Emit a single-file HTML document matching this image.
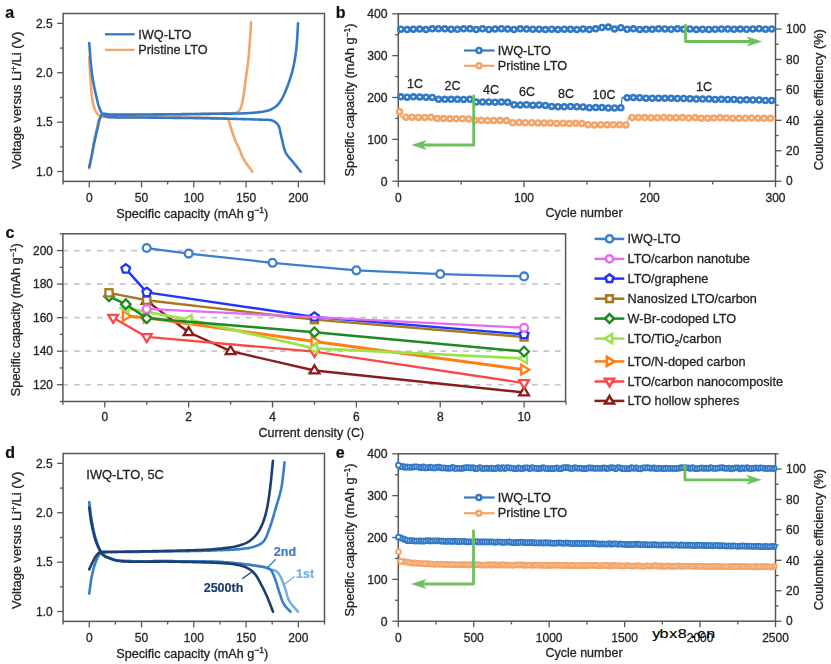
<!DOCTYPE html>
<html><head><meta charset="utf-8"><style>
html,body{margin:0;padding:0;background:#fff;}
body{position:relative;width:831px;height:664px;overflow:hidden;}
svg{display:block;font-family:"Liberation Sans", sans-serif;}
#main{filter:blur(0.45px);}
#wm{position:absolute;left:0;top:0;}
</style></head><body>
<svg id="main" width="831" height="664" viewBox="0 0 831 664">
<rect width="831" height="664" fill="#fff"/>
<rect x="63.10" y="13.50" width="261.40" height="167.90" fill="none" stroke="#575757" stroke-width="1.5"/>
<line x1="57.10" y1="171.52" x2="63.10" y2="171.52" stroke="#575757" stroke-width="1.3"/>
<text x="52.80" y="175.78" font-size="12" text-anchor="end" font-weight="normal" fill="#262626" stroke="#262626" stroke-width="0.3">1.0</text>
<line x1="57.10" y1="122.14" x2="63.10" y2="122.14" stroke="#575757" stroke-width="1.3"/>
<text x="52.80" y="126.40" font-size="12" text-anchor="end" font-weight="normal" fill="#262626" stroke="#262626" stroke-width="0.3">1.5</text>
<line x1="57.10" y1="72.76" x2="63.10" y2="72.76" stroke="#575757" stroke-width="1.3"/>
<text x="52.80" y="77.02" font-size="12" text-anchor="end" font-weight="normal" fill="#262626" stroke="#262626" stroke-width="0.3">2.0</text>
<line x1="57.10" y1="23.38" x2="63.10" y2="23.38" stroke="#575757" stroke-width="1.3"/>
<text x="52.80" y="27.64" font-size="12" text-anchor="end" font-weight="normal" fill="#262626" stroke="#262626" stroke-width="0.3">2.5</text>
<line x1="59.90" y1="146.83" x2="63.10" y2="146.83" stroke="#575757" stroke-width="1.3"/>
<line x1="59.90" y1="97.45" x2="63.10" y2="97.45" stroke="#575757" stroke-width="1.3"/>
<line x1="59.90" y1="48.07" x2="63.10" y2="48.07" stroke="#575757" stroke-width="1.3"/>
<line x1="89.24" y1="181.40" x2="89.24" y2="187.40" stroke="#575757" stroke-width="1.3"/>
<text x="89.24" y="201.56" font-size="12" text-anchor="middle" font-weight="normal" fill="#262626" stroke="#262626" stroke-width="0.3">0</text>
<line x1="141.52" y1="181.40" x2="141.52" y2="187.40" stroke="#575757" stroke-width="1.3"/>
<text x="141.52" y="201.56" font-size="12" text-anchor="middle" font-weight="normal" fill="#262626" stroke="#262626" stroke-width="0.3">50</text>
<line x1="193.80" y1="181.40" x2="193.80" y2="187.40" stroke="#575757" stroke-width="1.3"/>
<text x="193.80" y="201.56" font-size="12" text-anchor="middle" font-weight="normal" fill="#262626" stroke="#262626" stroke-width="0.3">100</text>
<line x1="246.08" y1="181.40" x2="246.08" y2="187.40" stroke="#575757" stroke-width="1.3"/>
<text x="246.08" y="201.56" font-size="12" text-anchor="middle" font-weight="normal" fill="#262626" stroke="#262626" stroke-width="0.3">150</text>
<line x1="298.36" y1="181.40" x2="298.36" y2="187.40" stroke="#575757" stroke-width="1.3"/>
<text x="298.36" y="201.56" font-size="12" text-anchor="middle" font-weight="normal" fill="#262626" stroke="#262626" stroke-width="0.3">200</text>
<line x1="63.10" y1="181.40" x2="63.10" y2="184.60" stroke="#575757" stroke-width="1.3"/>
<line x1="115.38" y1="181.40" x2="115.38" y2="184.60" stroke="#575757" stroke-width="1.3"/>
<line x1="167.66" y1="181.40" x2="167.66" y2="184.60" stroke="#575757" stroke-width="1.3"/>
<line x1="219.94" y1="181.40" x2="219.94" y2="184.60" stroke="#575757" stroke-width="1.3"/>
<line x1="272.22" y1="181.40" x2="272.22" y2="184.60" stroke="#575757" stroke-width="1.3"/>
<line x1="324.50" y1="181.40" x2="324.50" y2="184.60" stroke="#575757" stroke-width="1.3"/>
<text x="192.30" y="217.67" font-size="12.6" text-anchor="middle" font-weight="normal" fill="#262626" stroke="#262626" stroke-width="0.3">Specific capacity (mAh g<tspan font-size="8.6" dy="-4.5">−1</tspan><tspan dy="4.5">)</tspan></text>
<text x="16.60" y="104.86" font-size="12.85" text-anchor="middle" font-weight="normal" fill="#262626" stroke="#262626" stroke-width="0.3" transform="rotate(-90 16.60 100.30)">Voltage versus Li<tspan font-size="8.7" dy="-4.6">+</tspan><tspan dy="4.6">/Li (V)</tspan></text>
<text x="5.30" y="18.28" font-size="16" text-anchor="start" font-weight="bold" fill="#111" stroke="#111" stroke-width="0.2">a</text>
<rect x="63.10" y="453.50" width="261.40" height="167.90" fill="none" stroke="#575757" stroke-width="1.5"/>
<line x1="57.10" y1="611.52" x2="63.10" y2="611.52" stroke="#575757" stroke-width="1.3"/>
<text x="52.80" y="615.78" font-size="12" text-anchor="end" font-weight="normal" fill="#262626" stroke="#262626" stroke-width="0.3">1.0</text>
<line x1="57.10" y1="562.14" x2="63.10" y2="562.14" stroke="#575757" stroke-width="1.3"/>
<text x="52.80" y="566.40" font-size="12" text-anchor="end" font-weight="normal" fill="#262626" stroke="#262626" stroke-width="0.3">1.5</text>
<line x1="57.10" y1="512.76" x2="63.10" y2="512.76" stroke="#575757" stroke-width="1.3"/>
<text x="52.80" y="517.02" font-size="12" text-anchor="end" font-weight="normal" fill="#262626" stroke="#262626" stroke-width="0.3">2.0</text>
<line x1="57.10" y1="463.38" x2="63.10" y2="463.38" stroke="#575757" stroke-width="1.3"/>
<text x="52.80" y="467.64" font-size="12" text-anchor="end" font-weight="normal" fill="#262626" stroke="#262626" stroke-width="0.3">2.5</text>
<line x1="59.90" y1="586.83" x2="63.10" y2="586.83" stroke="#575757" stroke-width="1.3"/>
<line x1="59.90" y1="537.45" x2="63.10" y2="537.45" stroke="#575757" stroke-width="1.3"/>
<line x1="59.90" y1="488.07" x2="63.10" y2="488.07" stroke="#575757" stroke-width="1.3"/>
<line x1="89.24" y1="621.40" x2="89.24" y2="627.40" stroke="#575757" stroke-width="1.3"/>
<text x="89.24" y="641.56" font-size="12" text-anchor="middle" font-weight="normal" fill="#262626" stroke="#262626" stroke-width="0.3">0</text>
<line x1="141.52" y1="621.40" x2="141.52" y2="627.40" stroke="#575757" stroke-width="1.3"/>
<text x="141.52" y="641.56" font-size="12" text-anchor="middle" font-weight="normal" fill="#262626" stroke="#262626" stroke-width="0.3">50</text>
<line x1="193.80" y1="621.40" x2="193.80" y2="627.40" stroke="#575757" stroke-width="1.3"/>
<text x="193.80" y="641.56" font-size="12" text-anchor="middle" font-weight="normal" fill="#262626" stroke="#262626" stroke-width="0.3">100</text>
<line x1="246.08" y1="621.40" x2="246.08" y2="627.40" stroke="#575757" stroke-width="1.3"/>
<text x="246.08" y="641.56" font-size="12" text-anchor="middle" font-weight="normal" fill="#262626" stroke="#262626" stroke-width="0.3">150</text>
<line x1="298.36" y1="621.40" x2="298.36" y2="627.40" stroke="#575757" stroke-width="1.3"/>
<text x="298.36" y="641.56" font-size="12" text-anchor="middle" font-weight="normal" fill="#262626" stroke="#262626" stroke-width="0.3">200</text>
<line x1="63.10" y1="621.40" x2="63.10" y2="624.60" stroke="#575757" stroke-width="1.3"/>
<line x1="115.38" y1="621.40" x2="115.38" y2="624.60" stroke="#575757" stroke-width="1.3"/>
<line x1="167.66" y1="621.40" x2="167.66" y2="624.60" stroke="#575757" stroke-width="1.3"/>
<line x1="219.94" y1="621.40" x2="219.94" y2="624.60" stroke="#575757" stroke-width="1.3"/>
<line x1="272.22" y1="621.40" x2="272.22" y2="624.60" stroke="#575757" stroke-width="1.3"/>
<line x1="324.50" y1="621.40" x2="324.50" y2="624.60" stroke="#575757" stroke-width="1.3"/>
<text x="192.30" y="657.67" font-size="12.6" text-anchor="middle" font-weight="normal" fill="#262626" stroke="#262626" stroke-width="0.3">Specific capacity (mAh g<tspan font-size="8.6" dy="-4.5">−1</tspan><tspan dy="4.5">)</tspan></text>
<text x="16.60" y="544.86" font-size="12.85" text-anchor="middle" font-weight="normal" fill="#262626" stroke="#262626" stroke-width="0.3" transform="rotate(-90 16.60 540.30)">Voltage versus Li<tspan font-size="8.7" dy="-4.6">+</tspan><tspan dy="4.6">/Li (V)</tspan></text>
<text x="5.30" y="458.28" font-size="16" text-anchor="start" font-weight="bold" fill="#111" stroke="#111" stroke-width="0.2">d</text>
<rect x="398.30" y="13.80" width="377.20" height="167.40" fill="none" stroke="#575757" stroke-width="1.5"/>
<line x1="392.30" y1="181.20" x2="398.30" y2="181.20" stroke="#575757" stroke-width="1.3"/>
<text x="387.60" y="185.53" font-size="12.2" text-anchor="end" font-weight="normal" fill="#262626" stroke="#262626" stroke-width="0.3">0</text>
<line x1="392.30" y1="139.35" x2="398.30" y2="139.35" stroke="#575757" stroke-width="1.3"/>
<text x="387.60" y="143.68" font-size="12.2" text-anchor="end" font-weight="normal" fill="#262626" stroke="#262626" stroke-width="0.3">100</text>
<line x1="392.30" y1="97.50" x2="398.30" y2="97.50" stroke="#575757" stroke-width="1.3"/>
<text x="387.60" y="101.83" font-size="12.2" text-anchor="end" font-weight="normal" fill="#262626" stroke="#262626" stroke-width="0.3">200</text>
<line x1="392.30" y1="55.65" x2="398.30" y2="55.65" stroke="#575757" stroke-width="1.3"/>
<text x="387.60" y="59.98" font-size="12.2" text-anchor="end" font-weight="normal" fill="#262626" stroke="#262626" stroke-width="0.3">300</text>
<line x1="392.30" y1="13.80" x2="398.30" y2="13.80" stroke="#575757" stroke-width="1.3"/>
<text x="387.60" y="18.13" font-size="12.2" text-anchor="end" font-weight="normal" fill="#262626" stroke="#262626" stroke-width="0.3">400</text>
<line x1="395.10" y1="160.27" x2="398.30" y2="160.27" stroke="#575757" stroke-width="1.3"/>
<line x1="395.10" y1="118.42" x2="398.30" y2="118.42" stroke="#575757" stroke-width="1.3"/>
<line x1="395.10" y1="76.58" x2="398.30" y2="76.58" stroke="#575757" stroke-width="1.3"/>
<line x1="395.10" y1="34.72" x2="398.30" y2="34.72" stroke="#575757" stroke-width="1.3"/>
<line x1="775.50" y1="181.20" x2="781.50" y2="181.20" stroke="#575757" stroke-width="1.3"/>
<text x="786.00" y="185.46" font-size="12" text-anchor="start" font-weight="normal" fill="#262626" stroke="#262626" stroke-width="0.3">0</text>
<line x1="775.50" y1="150.76" x2="781.50" y2="150.76" stroke="#575757" stroke-width="1.3"/>
<text x="786.00" y="155.02" font-size="12" text-anchor="start" font-weight="normal" fill="#262626" stroke="#262626" stroke-width="0.3">20</text>
<line x1="775.50" y1="120.33" x2="781.50" y2="120.33" stroke="#575757" stroke-width="1.3"/>
<text x="786.00" y="124.59" font-size="12" text-anchor="start" font-weight="normal" fill="#262626" stroke="#262626" stroke-width="0.3">40</text>
<line x1="775.50" y1="89.89" x2="781.50" y2="89.89" stroke="#575757" stroke-width="1.3"/>
<text x="786.00" y="94.15" font-size="12" text-anchor="start" font-weight="normal" fill="#262626" stroke="#262626" stroke-width="0.3">60</text>
<line x1="775.50" y1="59.45" x2="781.50" y2="59.45" stroke="#575757" stroke-width="1.3"/>
<text x="786.00" y="63.71" font-size="12" text-anchor="start" font-weight="normal" fill="#262626" stroke="#262626" stroke-width="0.3">80</text>
<line x1="775.50" y1="29.02" x2="781.50" y2="29.02" stroke="#575757" stroke-width="1.3"/>
<text x="786.00" y="33.28" font-size="12" text-anchor="start" font-weight="normal" fill="#262626" stroke="#262626" stroke-width="0.3">100</text>
<line x1="775.50" y1="165.98" x2="778.70" y2="165.98" stroke="#575757" stroke-width="1.3"/>
<line x1="775.50" y1="135.55" x2="778.70" y2="135.55" stroke="#575757" stroke-width="1.3"/>
<line x1="775.50" y1="105.11" x2="778.70" y2="105.11" stroke="#575757" stroke-width="1.3"/>
<line x1="775.50" y1="74.67" x2="778.70" y2="74.67" stroke="#575757" stroke-width="1.3"/>
<line x1="775.50" y1="44.24" x2="778.70" y2="44.24" stroke="#575757" stroke-width="1.3"/>
<line x1="775.50" y1="13.80" x2="778.70" y2="13.80" stroke="#575757" stroke-width="1.3"/>
<line x1="398.30" y1="181.20" x2="398.30" y2="187.20" stroke="#575757" stroke-width="1.3"/>
<text x="398.30" y="201.56" font-size="12" text-anchor="middle" font-weight="normal" fill="#262626" stroke="#262626" stroke-width="0.3">0</text>
<line x1="524.03" y1="181.20" x2="524.03" y2="187.20" stroke="#575757" stroke-width="1.3"/>
<text x="524.03" y="201.56" font-size="12" text-anchor="middle" font-weight="normal" fill="#262626" stroke="#262626" stroke-width="0.3">100</text>
<line x1="649.77" y1="181.20" x2="649.77" y2="187.20" stroke="#575757" stroke-width="1.3"/>
<text x="649.77" y="201.56" font-size="12" text-anchor="middle" font-weight="normal" fill="#262626" stroke="#262626" stroke-width="0.3">200</text>
<line x1="775.50" y1="181.20" x2="775.50" y2="187.20" stroke="#575757" stroke-width="1.3"/>
<text x="775.50" y="201.56" font-size="12" text-anchor="middle" font-weight="normal" fill="#262626" stroke="#262626" stroke-width="0.3">300</text>
<line x1="461.17" y1="181.20" x2="461.17" y2="184.40" stroke="#575757" stroke-width="1.3"/>
<line x1="586.90" y1="181.20" x2="586.90" y2="184.40" stroke="#575757" stroke-width="1.3"/>
<line x1="712.63" y1="181.20" x2="712.63" y2="184.40" stroke="#575757" stroke-width="1.3"/>
<text x="584.00" y="216.94" font-size="12.5" text-anchor="middle" font-weight="normal" fill="#262626" stroke="#262626" stroke-width="0.3">Cycle number</text>
<text x="349.60" y="104.41" font-size="12.7" text-anchor="middle" font-weight="normal" fill="#262626" stroke="#262626" stroke-width="0.3" transform="rotate(-90 349.60 99.90)">Specific capacity (mAh g<tspan font-size="8.6" dy="-4.5">−1</tspan><tspan dy="4.5">)</tspan></text>
<text x="818.20" y="104.21" font-size="12.85" text-anchor="middle" font-weight="normal" fill="#262626" stroke="#262626" stroke-width="0.3" transform="rotate(-90 818.20 99.65)">Coulombic efficiency (%)</text>
<text x="335.80" y="17.58" font-size="16" text-anchor="start" font-weight="bold" fill="#111" stroke="#111" stroke-width="0.2">b</text>
<rect x="398.30" y="453.80" width="377.20" height="167.40" fill="none" stroke="#575757" stroke-width="1.5"/>
<line x1="392.30" y1="621.20" x2="398.30" y2="621.20" stroke="#575757" stroke-width="1.3"/>
<text x="387.60" y="625.53" font-size="12.2" text-anchor="end" font-weight="normal" fill="#262626" stroke="#262626" stroke-width="0.3">0</text>
<line x1="392.30" y1="579.35" x2="398.30" y2="579.35" stroke="#575757" stroke-width="1.3"/>
<text x="387.60" y="583.68" font-size="12.2" text-anchor="end" font-weight="normal" fill="#262626" stroke="#262626" stroke-width="0.3">100</text>
<line x1="392.30" y1="537.50" x2="398.30" y2="537.50" stroke="#575757" stroke-width="1.3"/>
<text x="387.60" y="541.83" font-size="12.2" text-anchor="end" font-weight="normal" fill="#262626" stroke="#262626" stroke-width="0.3">200</text>
<line x1="392.30" y1="495.65" x2="398.30" y2="495.65" stroke="#575757" stroke-width="1.3"/>
<text x="387.60" y="499.98" font-size="12.2" text-anchor="end" font-weight="normal" fill="#262626" stroke="#262626" stroke-width="0.3">300</text>
<line x1="392.30" y1="453.80" x2="398.30" y2="453.80" stroke="#575757" stroke-width="1.3"/>
<text x="387.60" y="458.13" font-size="12.2" text-anchor="end" font-weight="normal" fill="#262626" stroke="#262626" stroke-width="0.3">400</text>
<line x1="395.10" y1="600.28" x2="398.30" y2="600.28" stroke="#575757" stroke-width="1.3"/>
<line x1="395.10" y1="558.43" x2="398.30" y2="558.43" stroke="#575757" stroke-width="1.3"/>
<line x1="395.10" y1="516.58" x2="398.30" y2="516.58" stroke="#575757" stroke-width="1.3"/>
<line x1="395.10" y1="474.73" x2="398.30" y2="474.73" stroke="#575757" stroke-width="1.3"/>
<line x1="775.50" y1="621.20" x2="781.50" y2="621.20" stroke="#575757" stroke-width="1.3"/>
<text x="786.00" y="625.46" font-size="12" text-anchor="start" font-weight="normal" fill="#262626" stroke="#262626" stroke-width="0.3">0</text>
<line x1="775.50" y1="590.76" x2="781.50" y2="590.76" stroke="#575757" stroke-width="1.3"/>
<text x="786.00" y="595.02" font-size="12" text-anchor="start" font-weight="normal" fill="#262626" stroke="#262626" stroke-width="0.3">20</text>
<line x1="775.50" y1="560.33" x2="781.50" y2="560.33" stroke="#575757" stroke-width="1.3"/>
<text x="786.00" y="564.59" font-size="12" text-anchor="start" font-weight="normal" fill="#262626" stroke="#262626" stroke-width="0.3">40</text>
<line x1="775.50" y1="529.89" x2="781.50" y2="529.89" stroke="#575757" stroke-width="1.3"/>
<text x="786.00" y="534.15" font-size="12" text-anchor="start" font-weight="normal" fill="#262626" stroke="#262626" stroke-width="0.3">60</text>
<line x1="775.50" y1="499.45" x2="781.50" y2="499.45" stroke="#575757" stroke-width="1.3"/>
<text x="786.00" y="503.71" font-size="12" text-anchor="start" font-weight="normal" fill="#262626" stroke="#262626" stroke-width="0.3">80</text>
<line x1="775.50" y1="469.02" x2="781.50" y2="469.02" stroke="#575757" stroke-width="1.3"/>
<text x="786.00" y="473.28" font-size="12" text-anchor="start" font-weight="normal" fill="#262626" stroke="#262626" stroke-width="0.3">100</text>
<line x1="775.50" y1="605.98" x2="778.70" y2="605.98" stroke="#575757" stroke-width="1.3"/>
<line x1="775.50" y1="575.55" x2="778.70" y2="575.55" stroke="#575757" stroke-width="1.3"/>
<line x1="775.50" y1="545.11" x2="778.70" y2="545.11" stroke="#575757" stroke-width="1.3"/>
<line x1="775.50" y1="514.67" x2="778.70" y2="514.67" stroke="#575757" stroke-width="1.3"/>
<line x1="775.50" y1="484.24" x2="778.70" y2="484.24" stroke="#575757" stroke-width="1.3"/>
<line x1="775.50" y1="453.80" x2="778.70" y2="453.80" stroke="#575757" stroke-width="1.3"/>
<line x1="398.30" y1="621.20" x2="398.30" y2="627.20" stroke="#575757" stroke-width="1.3"/>
<text x="398.30" y="641.56" font-size="12" text-anchor="middle" font-weight="normal" fill="#262626" stroke="#262626" stroke-width="0.3">0</text>
<line x1="473.74" y1="621.20" x2="473.74" y2="627.20" stroke="#575757" stroke-width="1.3"/>
<text x="473.74" y="641.56" font-size="12" text-anchor="middle" font-weight="normal" fill="#262626" stroke="#262626" stroke-width="0.3">500</text>
<line x1="549.18" y1="621.20" x2="549.18" y2="627.20" stroke="#575757" stroke-width="1.3"/>
<text x="549.18" y="641.56" font-size="12" text-anchor="middle" font-weight="normal" fill="#262626" stroke="#262626" stroke-width="0.3">1000</text>
<line x1="624.62" y1="621.20" x2="624.62" y2="627.20" stroke="#575757" stroke-width="1.3"/>
<text x="624.62" y="641.56" font-size="12" text-anchor="middle" font-weight="normal" fill="#262626" stroke="#262626" stroke-width="0.3">1500</text>
<line x1="700.06" y1="621.20" x2="700.06" y2="627.20" stroke="#575757" stroke-width="1.3"/>
<text x="700.06" y="641.56" font-size="12" text-anchor="middle" font-weight="normal" fill="#262626" stroke="#262626" stroke-width="0.3">2000</text>
<line x1="775.50" y1="621.20" x2="775.50" y2="627.20" stroke="#575757" stroke-width="1.3"/>
<text x="775.50" y="641.56" font-size="12" text-anchor="middle" font-weight="normal" fill="#262626" stroke="#262626" stroke-width="0.3">2500</text>
<line x1="436.02" y1="621.20" x2="436.02" y2="624.40" stroke="#575757" stroke-width="1.3"/>
<line x1="511.46" y1="621.20" x2="511.46" y2="624.40" stroke="#575757" stroke-width="1.3"/>
<line x1="586.90" y1="621.20" x2="586.90" y2="624.40" stroke="#575757" stroke-width="1.3"/>
<line x1="662.34" y1="621.20" x2="662.34" y2="624.40" stroke="#575757" stroke-width="1.3"/>
<line x1="737.78" y1="621.20" x2="737.78" y2="624.40" stroke="#575757" stroke-width="1.3"/>
<text x="584.00" y="656.94" font-size="12.5" text-anchor="middle" font-weight="normal" fill="#262626" stroke="#262626" stroke-width="0.3">Cycle number</text>
<text x="349.60" y="544.41" font-size="12.7" text-anchor="middle" font-weight="normal" fill="#262626" stroke="#262626" stroke-width="0.3" transform="rotate(-90 349.60 539.90)">Specific capacity (mAh g<tspan font-size="8.6" dy="-4.5">−1</tspan><tspan dy="4.5">)</tspan></text>
<text x="818.20" y="544.21" font-size="12.85" text-anchor="middle" font-weight="normal" fill="#262626" stroke="#262626" stroke-width="0.3" transform="rotate(-90 818.20 539.65)">Coulombic efficiency (%)</text>
<text x="335.80" y="457.58" font-size="16" text-anchor="start" font-weight="bold" fill="#111" stroke="#111" stroke-width="0.2">e</text>
<line x1="62.60" y1="384.73" x2="565.50" y2="384.73" stroke="#c6c6c6" stroke-width="1.7" stroke-dasharray="5.6 5.85"/>
<line x1="62.60" y1="351.19" x2="565.50" y2="351.19" stroke="#c6c6c6" stroke-width="1.7" stroke-dasharray="5.6 5.85"/>
<line x1="62.60" y1="317.65" x2="565.50" y2="317.65" stroke="#c6c6c6" stroke-width="1.7" stroke-dasharray="5.6 5.85"/>
<line x1="62.60" y1="284.11" x2="565.50" y2="284.11" stroke="#c6c6c6" stroke-width="1.7" stroke-dasharray="5.6 5.85"/>
<line x1="62.60" y1="250.57" x2="565.50" y2="250.57" stroke="#c6c6c6" stroke-width="1.7" stroke-dasharray="5.6 5.85"/>
<rect x="62.90" y="233.80" width="502.70" height="167.70" fill="none" stroke="#575757" stroke-width="1.5"/>
<line x1="56.90" y1="384.73" x2="62.90" y2="384.73" stroke="#575757" stroke-width="1.3"/>
<text x="53.00" y="388.99" font-size="12" text-anchor="end" font-weight="normal" fill="#262626" stroke="#262626" stroke-width="0.3">120</text>
<line x1="56.90" y1="351.19" x2="62.90" y2="351.19" stroke="#575757" stroke-width="1.3"/>
<text x="53.00" y="355.45" font-size="12" text-anchor="end" font-weight="normal" fill="#262626" stroke="#262626" stroke-width="0.3">140</text>
<line x1="56.90" y1="317.65" x2="62.90" y2="317.65" stroke="#575757" stroke-width="1.3"/>
<text x="53.00" y="321.91" font-size="12" text-anchor="end" font-weight="normal" fill="#262626" stroke="#262626" stroke-width="0.3">160</text>
<line x1="56.90" y1="284.11" x2="62.90" y2="284.11" stroke="#575757" stroke-width="1.3"/>
<text x="53.00" y="288.37" font-size="12" text-anchor="end" font-weight="normal" fill="#262626" stroke="#262626" stroke-width="0.3">180</text>
<line x1="56.90" y1="250.57" x2="62.90" y2="250.57" stroke="#575757" stroke-width="1.3"/>
<text x="53.00" y="254.83" font-size="12" text-anchor="end" font-weight="normal" fill="#262626" stroke="#262626" stroke-width="0.3">200</text>
<line x1="59.70" y1="401.50" x2="62.90" y2="401.50" stroke="#575757" stroke-width="1.3"/>
<line x1="59.70" y1="367.96" x2="62.90" y2="367.96" stroke="#575757" stroke-width="1.3"/>
<line x1="59.70" y1="334.42" x2="62.90" y2="334.42" stroke="#575757" stroke-width="1.3"/>
<line x1="59.70" y1="300.88" x2="62.90" y2="300.88" stroke="#575757" stroke-width="1.3"/>
<line x1="59.70" y1="267.34" x2="62.90" y2="267.34" stroke="#575757" stroke-width="1.3"/>
<line x1="59.70" y1="233.80" x2="62.90" y2="233.80" stroke="#575757" stroke-width="1.3"/>
<line x1="104.80" y1="401.50" x2="104.80" y2="407.50" stroke="#575757" stroke-width="1.3"/>
<text x="104.80" y="421.06" font-size="12" text-anchor="middle" font-weight="normal" fill="#262626" stroke="#262626" stroke-width="0.3">0</text>
<line x1="188.66" y1="401.50" x2="188.66" y2="407.50" stroke="#575757" stroke-width="1.3"/>
<text x="188.66" y="421.06" font-size="12" text-anchor="middle" font-weight="normal" fill="#262626" stroke="#262626" stroke-width="0.3">2</text>
<line x1="272.52" y1="401.50" x2="272.52" y2="407.50" stroke="#575757" stroke-width="1.3"/>
<text x="272.52" y="421.06" font-size="12" text-anchor="middle" font-weight="normal" fill="#262626" stroke="#262626" stroke-width="0.3">4</text>
<line x1="356.38" y1="401.50" x2="356.38" y2="407.50" stroke="#575757" stroke-width="1.3"/>
<text x="356.38" y="421.06" font-size="12" text-anchor="middle" font-weight="normal" fill="#262626" stroke="#262626" stroke-width="0.3">6</text>
<line x1="440.24" y1="401.50" x2="440.24" y2="407.50" stroke="#575757" stroke-width="1.3"/>
<text x="440.24" y="421.06" font-size="12" text-anchor="middle" font-weight="normal" fill="#262626" stroke="#262626" stroke-width="0.3">8</text>
<line x1="524.10" y1="401.50" x2="524.10" y2="407.50" stroke="#575757" stroke-width="1.3"/>
<text x="524.10" y="421.06" font-size="12" text-anchor="middle" font-weight="normal" fill="#262626" stroke="#262626" stroke-width="0.3">10</text>
<line x1="62.87" y1="401.50" x2="62.87" y2="404.70" stroke="#575757" stroke-width="1.3"/>
<line x1="146.73" y1="401.50" x2="146.73" y2="404.70" stroke="#575757" stroke-width="1.3"/>
<line x1="230.59" y1="401.50" x2="230.59" y2="404.70" stroke="#575757" stroke-width="1.3"/>
<line x1="314.45" y1="401.50" x2="314.45" y2="404.70" stroke="#575757" stroke-width="1.3"/>
<line x1="398.31" y1="401.50" x2="398.31" y2="404.70" stroke="#575757" stroke-width="1.3"/>
<line x1="482.17" y1="401.50" x2="482.17" y2="404.70" stroke="#575757" stroke-width="1.3"/>
<line x1="566.03" y1="401.50" x2="566.03" y2="404.70" stroke="#575757" stroke-width="1.3"/>
<text x="311.30" y="437.34" font-size="12.5" text-anchor="middle" font-weight="normal" fill="#262626" stroke="#262626" stroke-width="0.3">Current density (C)</text>
<text x="15.70" y="324.31" font-size="12.7" text-anchor="middle" font-weight="normal" fill="#262626" stroke="#262626" stroke-width="0.3" transform="rotate(-90 15.70 319.80)">Specific capacity (mAh g<tspan font-size="8.6" dy="-4.5">−1</tspan><tspan dy="4.5">)</tspan></text>
<text x="5.50" y="237.68" font-size="16" text-anchor="start" font-weight="bold" fill="#111" stroke="#111" stroke-width="0.2">c</text>
<path d="M89.24,168.56 L89.50,167.21 L89.77,165.87 L90.03,164.53 L90.30,163.19 L90.56,161.84 L90.82,160.48 L91.08,159.10 L91.33,157.70 L91.57,156.33 L91.79,154.95 L92.01,153.56 L92.22,152.15 L92.44,150.73 L92.67,149.29 L92.90,147.84 L93.15,146.36 L93.42,144.86 L93.67,143.54 L93.93,142.18 L94.20,140.78 L94.48,139.36 L94.77,137.92 L95.07,136.48 L95.37,135.05 L95.67,133.64 L95.97,132.25 L96.28,130.90 L96.58,129.60 L96.87,128.37 L97.25,126.72 L97.60,125.09 L97.95,123.49 L98.31,121.97 L98.71,120.56 L99.16,119.29 L99.70,118.19 L100.58,116.84 L101.58,115.79 L102.83,115.03 L103.96,114.72 L105.21,114.64 L106.61,114.70 L108.24,114.80 L110.15,114.84 L110.98,114.82 L111.87,114.82 L112.81,114.81 L113.81,114.80 L114.86,114.80 L115.96,114.79 L117.11,114.79 L118.30,114.79 L119.53,114.79 L120.81,114.79 L122.12,114.79 L123.46,114.79 L124.83,114.79 L126.24,114.79 L127.67,114.79 L129.12,114.79 L130.60,114.80 L132.09,114.80 L133.60,114.80 L135.12,114.80 L136.65,114.80 L138.19,114.80 L139.74,114.79 L141.28,114.79 L142.83,114.79 L144.38,114.78 L145.92,114.78 L147.45,114.77 L148.97,114.76 L150.48,114.75 L151.98,114.74 L153.19,114.73 L154.43,114.71 L155.70,114.70 L156.99,114.69 L158.30,114.68 L159.63,114.66 L160.99,114.65 L162.36,114.63 L163.74,114.62 L165.15,114.60 L166.57,114.58 L167.99,114.57 L169.44,114.55 L170.89,114.53 L172.34,114.51 L173.81,114.49 L175.28,114.48 L176.75,114.46 L178.23,114.44 L179.71,114.41 L181.18,114.39 L182.66,114.37 L184.13,114.35 L185.60,114.33 L187.06,114.31 L188.51,114.28 L189.95,114.26 L191.39,114.24 L192.81,114.21 L194.22,114.19 L195.61,114.17 L196.99,114.14 L198.35,114.12 L199.69,114.09 L201.01,114.07 L202.30,114.04 L203.58,114.02 L204.83,113.99 L206.05,113.96 L207.24,113.94 L208.41,113.91 L209.55,113.88 L210.65,113.86 L211.72,113.83 L212.75,113.80 L213.75,113.78 L214.71,113.75 L216.54,113.70 L218.30,113.66 L220.01,113.62 L221.65,113.58 L223.23,113.55 L224.74,113.51 L226.18,113.47 L227.56,113.42 L228.86,113.35 L230.09,113.28 L231.25,113.19 L232.32,113.09 L233.32,112.96 L235.24,112.72 L236.80,112.43 L238.13,111.77 L239.05,110.90 L239.80,109.78 L240.45,108.48 L241.06,107.03 L241.46,105.92 L241.82,104.71 L242.13,103.41 L242.42,102.04 L242.69,100.61 L242.94,99.13 L243.20,97.61 L243.47,96.07 L243.67,94.84 L243.88,93.56 L244.07,92.23 L244.26,90.88 L244.44,89.49 L244.63,88.08 L244.80,86.66 L244.98,85.22 L245.16,83.78 L245.33,82.34 L245.51,80.91 L245.69,79.49 L245.87,78.10 L246.06,76.71 L246.25,75.31 L246.44,73.92 L246.64,72.52 L246.84,71.12 L247.03,69.73 L247.23,68.33 L247.42,66.94 L247.60,65.54 L247.78,64.16 L247.96,62.77 L248.12,61.40 L248.28,60.02 L248.43,58.60 L248.57,57.20 L248.71,55.81 L248.83,54.42 L248.96,53.04 L249.07,51.66 L249.19,50.27 L249.30,48.88 L249.41,47.47 L249.52,46.05 L249.63,44.60 L249.74,43.14 L249.84,41.82 L249.93,40.48 L250.03,39.13 L250.12,37.76 L250.21,36.38 L250.30,34.99 L250.39,33.60 L250.48,32.20 L250.57,30.80 L250.66,29.39 L250.74,27.98 L250.83,26.58 L250.92,25.18 L251.01,23.78 L251.10,22.40" fill="none" stroke="#f3a56a" stroke-width="2.6" stroke-linejoin="round" stroke-linecap="round"/>
<path d="M89.24,57.16 L89.31,58.55 L89.38,59.95 L89.45,61.34 L89.52,62.73 L89.58,64.11 L89.65,65.50 L89.72,66.89 L89.79,68.28 L89.86,69.68 L89.93,71.07 L90.01,72.48 L90.10,73.88 L90.19,75.30 L90.29,76.71 L90.38,78.12 L90.48,79.55 L90.58,81.01 L90.69,82.49 L90.79,83.98 L90.90,85.47 L91.02,86.96 L91.14,88.44 L91.26,89.90 L91.39,91.33 L91.53,92.73 L91.68,94.09 L91.83,95.40 L91.99,96.66 L92.17,97.85 L92.41,99.37 L92.65,100.83 L92.90,102.24 L93.17,103.58 L93.46,104.87 L93.77,106.09 L94.10,107.24 L94.47,108.32 L95.05,109.75 L95.68,111.05 L96.36,112.22 L97.08,113.26 L97.88,114.23 L98.72,115.05 L99.70,115.72 L100.95,116.27 L102.36,116.64 L103.88,116.91 L105.18,117.07 L106.48,117.14 L108.05,117.17 L110.15,117.21 L110.78,117.22 L111.48,117.24 L112.23,117.25 L113.05,117.26 L113.92,117.28 L114.85,117.29 L115.83,117.30 L116.86,117.31 L117.94,117.32 L119.07,117.33 L120.25,117.34 L121.46,117.35 L122.73,117.36 L124.03,117.37 L125.36,117.37 L126.74,117.38 L128.15,117.39 L129.59,117.40 L131.06,117.40 L132.56,117.41 L134.09,117.41 L135.64,117.42 L137.21,117.42 L138.81,117.43 L140.42,117.43 L142.05,117.44 L143.69,117.44 L145.35,117.45 L147.02,117.45 L148.70,117.46 L150.38,117.46 L152.08,117.47 L153.77,117.47 L155.47,117.48 L157.16,117.48 L158.85,117.49 L160.54,117.49 L162.23,117.50 L163.90,117.50 L165.57,117.51 L167.22,117.51 L168.86,117.52 L170.48,117.52 L172.09,117.53 L173.67,117.54 L175.24,117.55 L176.78,117.55 L178.29,117.56 L179.78,117.57 L181.24,117.58 L182.67,117.59 L184.06,117.60 L185.42,117.61 L186.74,117.62 L188.03,117.63 L189.27,117.64 L190.47,117.66 L191.63,117.67 L192.74,117.68 L193.80,117.70 L195.55,117.73 L197.28,117.75 L198.99,117.77 L200.68,117.80 L202.35,117.82 L203.99,117.84 L205.60,117.87 L207.18,117.89 L208.71,117.92 L210.21,117.94 L211.67,117.97 L213.07,118.00 L214.43,118.03 L215.73,118.07 L216.98,118.10 L218.16,118.14 L219.29,118.19 L220.34,118.23 L221.33,118.28 L222.24,118.33 L223.08,118.39 L225.02,118.40 L226.52,118.43 L227.78,118.98 L228.51,119.86 L229.07,121.09 L229.52,122.57 L229.92,124.19 L230.33,125.86 L230.81,127.48 L231.26,128.78 L231.72,130.16 L232.18,131.59 L232.66,133.06 L233.14,134.53 L233.63,135.98 L234.12,137.40 L234.61,138.75 L235.10,140.02 L235.69,141.42 L236.29,142.71 L236.89,143.94 L237.49,145.17 L238.12,146.45 L238.76,147.82 L239.29,149.03 L239.82,150.30 L240.35,151.61 L240.89,152.95 L241.44,154.31 L242.03,155.67 L242.64,157.03 L243.29,158.37 L243.99,159.67 L244.71,160.89 L245.48,162.10 L246.29,163.31 L247.13,164.50 L247.99,165.69 L248.87,166.87 L249.75,168.06 L250.63,169.24 L251.50,170.43 L252.35,171.62" fill="none" stroke="#f3a56a" stroke-width="2.6" stroke-linejoin="round" stroke-linecap="round"/>
<path d="M89.24,166.98 L89.54,165.66 L89.84,164.34 L90.15,163.03 L90.45,161.71 L90.75,160.38 L91.04,159.05 L91.33,157.70 L91.62,156.27 L91.91,154.83 L92.19,153.38 L92.47,151.92 L92.74,150.46 L93.03,148.99 L93.32,147.53 L93.58,146.21 L93.85,144.89 L94.12,143.56 L94.39,142.23 L94.67,140.90 L94.95,139.57 L95.23,138.26 L95.51,136.96 L95.83,135.54 L96.16,134.12 L96.48,132.72 L96.81,131.32 L97.15,129.93 L97.48,128.55 L97.81,127.18 L98.12,125.83 L98.42,124.44 L98.70,123.05 L99.00,121.69 L99.33,120.39 L99.70,119.18 L100.11,118.09 L100.85,116.44 L101.68,115.02 L102.83,114.05 L103.92,113.76 L105.16,113.83 L106.58,114.08 L108.23,114.36 L110.15,114.54 L110.98,114.56 L111.86,114.58 L112.81,114.60 L113.81,114.62 L114.86,114.63 L115.96,114.64 L117.11,114.65 L118.30,114.65 L119.53,114.66 L120.81,114.66 L122.12,114.65 L123.46,114.65 L124.83,114.65 L126.24,114.64 L127.67,114.63 L129.12,114.62 L130.59,114.61 L132.09,114.60 L133.60,114.59 L135.12,114.58 L136.65,114.57 L138.19,114.55 L139.73,114.54 L141.28,114.53 L142.83,114.51 L144.38,114.50 L145.92,114.49 L147.45,114.47 L148.97,114.46 L150.48,114.45 L151.98,114.44 L153.19,114.43 L154.42,114.42 L155.67,114.41 L156.94,114.40 L158.22,114.39 L159.52,114.38 L160.84,114.37 L162.17,114.36 L163.52,114.35 L164.87,114.34 L166.24,114.32 L167.62,114.31 L169.01,114.30 L170.40,114.28 L171.81,114.27 L173.22,114.25 L174.63,114.24 L176.05,114.22 L177.48,114.21 L178.90,114.19 L180.33,114.18 L181.76,114.16 L183.18,114.14 L184.61,114.13 L186.03,114.11 L187.45,114.09 L188.87,114.08 L190.28,114.06 L191.68,114.04 L193.08,114.03 L194.46,114.01 L195.84,113.99 L197.21,113.98 L198.57,113.96 L199.91,113.94 L201.24,113.92 L202.56,113.91 L203.86,113.89 L205.14,113.88 L206.41,113.86 L207.66,113.84 L208.89,113.83 L210.10,113.81 L211.29,113.79 L212.45,113.78 L213.59,113.76 L214.71,113.75 L216.31,113.73 L217.89,113.71 L219.46,113.69 L221.02,113.68 L222.56,113.66 L224.09,113.65 L225.59,113.64 L227.08,113.62 L228.55,113.61 L230.00,113.59 L231.42,113.58 L232.82,113.56 L234.19,113.55 L235.53,113.53 L236.84,113.51 L238.12,113.49 L239.37,113.46 L240.58,113.44 L241.76,113.41 L242.90,113.37 L244.00,113.34 L245.06,113.30 L246.08,113.26 L247.88,113.17 L249.51,113.07 L251.02,112.97 L252.43,112.86 L253.80,112.74 L255.15,112.61 L256.54,112.47 L258.00,112.31 L259.45,112.15 L260.86,111.97 L262.25,111.78 L263.59,111.55 L264.90,111.28 L266.56,110.89 L268.14,110.45 L269.68,109.94 L271.17,109.31 L272.39,108.70 L273.59,108.03 L274.75,107.28 L275.87,106.46 L276.93,105.55 L277.96,104.48 L278.93,103.30 L279.84,102.04 L280.70,100.74 L281.53,99.43 L282.30,98.11 L283.01,96.75 L283.69,95.37 L284.33,93.95 L284.98,92.52 L285.53,91.23 L286.07,89.92 L286.60,88.59 L287.11,87.24 L287.61,85.88 L288.11,84.52 L288.63,83.07 L289.14,81.60 L289.64,80.12 L290.13,78.64 L290.60,77.17 L291.04,75.73 L291.50,74.18 L291.94,72.68 L292.35,71.19 L292.74,69.65 L293.13,68.02 L293.42,66.74 L293.70,65.41 L293.98,64.05 L294.25,62.65 L294.51,61.23 L294.76,59.81 L295.00,58.38 L295.22,56.96 L295.44,55.53 L295.65,54.12 L295.84,52.71 L296.02,51.29 L296.20,49.84 L296.36,48.34 L296.53,46.77 L296.69,45.11 L296.79,43.93 L296.89,42.70 L296.99,41.43 L297.08,40.12 L297.16,38.78 L297.25,37.41 L297.33,36.02 L297.41,34.61 L297.49,33.19 L297.57,31.76 L297.65,30.33 L297.72,28.90 L297.80,27.47 L297.88,26.06 L297.96,24.66 L298.05,23.29" fill="none" stroke="#3479c6" stroke-width="2.6" stroke-linejoin="round" stroke-linecap="round"/>
<path d="M89.24,43.14 L89.35,44.56 L89.46,46.00 L89.57,47.45 L89.68,48.91 L89.79,50.38 L89.90,51.84 L90.01,53.30 L90.12,54.75 L90.24,56.18 L90.35,57.58 L90.46,58.96 L90.58,60.31 L90.69,61.62 L90.81,62.89 L90.95,64.39 L91.09,65.85 L91.23,67.26 L91.37,68.64 L91.52,69.98 L91.67,71.31 L91.82,72.62 L91.99,73.93 L92.17,75.23 L92.39,76.76 L92.62,78.24 L92.86,79.70 L93.11,81.15 L93.37,82.61 L93.65,84.09 L93.95,85.60 L94.21,86.93 L94.49,88.29 L94.79,89.67 L95.09,91.07 L95.40,92.46 L95.72,93.85 L96.04,95.22 L96.35,96.55 L96.66,97.85 L97.01,99.29 L97.34,100.71 L97.67,102.11 L98.00,103.48 L98.36,104.81 L98.75,106.10 L99.17,107.33 L99.72,108.77 L100.28,110.17 L100.89,111.50 L101.56,112.71 L102.31,113.75 L103.40,114.87 L104.60,115.74 L105.97,116.42 L107.26,116.80 L108.63,116.99 L110.24,117.09 L112.24,117.21 L113.06,117.26 L113.94,117.30 L114.88,117.34 L115.89,117.37 L116.96,117.41 L118.08,117.43 L119.25,117.45 L120.47,117.47 L121.74,117.49 L123.05,117.50 L124.40,117.51 L125.79,117.52 L127.21,117.53 L128.66,117.53 L130.14,117.53 L131.65,117.54 L133.17,117.54 L134.71,117.54 L136.27,117.54 L137.84,117.54 L139.42,117.54 L141.00,117.54 L142.58,117.54 L144.17,117.55 L145.75,117.55 L147.33,117.56 L148.89,117.57 L150.44,117.59 L151.98,117.60 L153.17,117.61 L154.39,117.63 L155.62,117.64 L156.88,117.66 L158.15,117.67 L159.45,117.68 L160.75,117.70 L162.08,117.71 L163.42,117.73 L164.77,117.74 L166.13,117.76 L167.51,117.77 L168.89,117.79 L170.29,117.80 L171.69,117.82 L173.10,117.83 L174.52,117.85 L175.94,117.86 L177.36,117.88 L178.79,117.89 L180.22,117.91 L181.65,117.93 L183.08,117.94 L184.51,117.96 L185.94,117.98 L187.37,117.99 L188.79,118.01 L190.20,118.03 L191.61,118.05 L193.01,118.06 L194.40,118.08 L195.79,118.10 L197.16,118.12 L198.52,118.14 L199.87,118.15 L201.21,118.17 L202.53,118.19 L203.83,118.21 L205.12,118.23 L206.40,118.25 L207.65,118.27 L208.88,118.29 L210.09,118.31 L211.28,118.33 L212.45,118.35 L213.59,118.37 L214.71,118.39 L216.30,118.42 L217.87,118.45 L219.41,118.49 L220.94,118.52 L222.45,118.55 L223.93,118.59 L225.40,118.62 L226.84,118.66 L228.27,118.69 L229.67,118.73 L231.06,118.76 L232.42,118.80 L233.76,118.83 L235.09,118.87 L236.39,118.91 L237.67,118.94 L238.94,118.98 L240.18,119.01 L241.40,119.05 L242.60,119.08 L243.78,119.12 L244.94,119.15 L246.08,119.18 L247.72,119.23 L249.31,119.27 L250.85,119.32 L252.35,119.36 L253.80,119.40 L255.21,119.44 L256.58,119.49 L257.92,119.53 L259.23,119.58 L260.51,119.62 L261.76,119.68 L263.27,119.72 L264.75,119.73 L266.18,119.74 L267.55,119.76 L268.85,119.83 L270.06,119.95 L271.17,120.17 L272.75,120.67 L274.11,121.33 L275.36,122.14 L276.52,123.07 L277.56,124.17 L278.49,125.60 L278.95,126.60 L279.35,127.77 L279.70,129.06 L280.03,130.46 L280.33,131.93 L280.63,133.44 L280.94,134.97 L281.27,136.48 L281.63,137.95 L281.97,139.26 L282.28,140.62 L282.60,142.01 L282.91,143.42 L283.23,144.84 L283.57,146.25 L283.93,147.64 L284.33,149.00 L284.77,150.32 L285.26,151.57 L285.81,152.76 L286.56,154.10 L287.40,155.34 L288.30,156.53 L289.25,157.66 L290.22,158.77 L291.21,159.88 L292.18,160.99 L293.13,162.14 L293.97,163.20 L294.81,164.25 L295.66,165.30 L296.51,166.36 L297.36,167.41 L298.21,168.46 L299.06,169.52 L299.92,170.57 L300.76,171.62" fill="none" stroke="#3479c6" stroke-width="2.6" stroke-linejoin="round" stroke-linecap="round"/>
<line x1="105.00" y1="34.30" x2="134.70" y2="34.30" stroke="#3479c6" stroke-width="2.3"/>
<line x1="105.00" y1="49.90" x2="134.70" y2="49.90" stroke="#f3a56a" stroke-width="2.3"/>
<text x="138.30" y="38.81" font-size="12.7" text-anchor="start" font-weight="normal" fill="#262626" stroke="#262626" stroke-width="0.3">IWQ-LTO</text>
<text x="138.30" y="54.41" font-size="12.7" text-anchor="start" font-weight="normal" fill="#262626" stroke="#262626" stroke-width="0.3">Pristine LTO</text>
<path d="M89.24,502.30 L89.41,503.66 L89.57,505.01 L89.73,506.36 L89.88,507.71 L90.03,509.06 L90.19,510.40 L90.35,511.76 L90.52,513.12 L90.70,514.49 L90.89,515.88 L91.10,517.27 L91.33,518.69 L91.55,519.97 L91.78,521.28 L92.01,522.62 L92.26,523.97 L92.51,525.35 L92.78,526.72 L93.05,528.11 L93.33,529.48 L93.62,530.85 L93.91,532.19 L94.22,533.51 L94.53,534.81 L94.85,536.06 L95.18,537.28 L95.51,538.44 L95.97,539.94 L96.44,541.41 L96.93,542.85 L97.43,544.25 L97.94,545.60 L98.47,546.88 L99.01,548.10 L99.56,549.24 L100.11,550.29 L100.99,551.78 L101.87,553.08 L102.82,554.23 L103.88,555.23 L104.99,556.01 L106.19,556.62 L107.48,557.16 L108.90,557.70 L109.99,558.13 L111.10,558.55 L112.24,558.96 L113.49,559.35 L114.86,559.72 L116.42,560.06 L118.20,560.37 L119.01,560.48 L119.86,560.58 L120.77,560.67 L121.73,560.75 L122.74,560.83 L123.80,560.90 L124.90,560.96 L126.04,561.01 L127.22,561.06 L128.44,561.10 L129.69,561.14 L130.97,561.17 L132.29,561.19 L133.64,561.21 L135.01,561.23 L136.41,561.24 L137.82,561.25 L139.26,561.25 L140.72,561.25 L142.19,561.25 L143.68,561.24 L145.17,561.24 L146.68,561.23 L148.19,561.22 L149.71,561.21 L151.23,561.19 L152.75,561.18 L154.27,561.17 L155.79,561.16 L157.30,561.15 L158.80,561.13 L160.29,561.13 L161.77,561.12 L163.24,561.11 L164.68,561.11 L166.11,561.11 L167.52,561.11 L168.90,561.12 L170.26,561.13 L171.59,561.14 L172.89,561.16 L174.29,561.18 L175.69,561.19 L177.08,561.21 L178.49,561.22 L179.89,561.24 L181.29,561.25 L182.69,561.26 L184.08,561.26 L185.48,561.27 L186.88,561.28 L188.27,561.28 L189.66,561.29 L191.05,561.30 L192.43,561.30 L193.81,561.31 L195.19,561.32 L196.56,561.33 L197.92,561.34 L199.29,561.35 L200.64,561.37 L201.99,561.38 L203.33,561.40 L204.67,561.42 L206.00,561.44 L207.32,561.47 L208.64,561.50 L209.94,561.53 L211.24,561.57 L212.53,561.61 L213.81,561.65 L215.07,561.70 L216.33,561.76 L217.58,561.81 L218.82,561.88 L220.04,561.95 L221.52,562.04 L223.00,562.13 L224.48,562.24 L225.96,562.35 L227.43,562.46 L228.89,562.59 L230.35,562.71 L231.80,562.84 L233.24,562.98 L234.66,563.12 L236.08,563.26 L237.47,563.40 L238.85,563.55 L240.21,563.70 L241.55,563.85 L242.87,564.00 L244.17,564.16 L245.44,564.31 L246.68,564.46 L247.90,564.61 L249.09,564.76 L250.24,564.91 L251.37,565.06 L252.46,565.21 L254.15,565.43 L255.79,565.65 L257.39,565.87 L258.93,566.09 L260.41,566.31 L261.82,566.54 L263.14,566.77 L264.38,567.02 L265.53,567.29 L266.57,567.58 L268.18,568.19 L269.49,568.84 L270.86,569.45 L272.20,569.82 L273.63,570.11 L275.02,570.49 L276.30,571.13 L277.31,572.00 L278.23,573.08 L279.09,574.31 L279.90,575.65 L280.69,577.06 L281.29,578.23 L281.87,579.48 L282.41,580.81 L282.94,582.18 L283.45,583.60 L283.96,585.04 L284.46,586.49 L284.98,587.92 L285.40,589.17 L285.79,590.46 L286.15,591.78 L286.51,593.11 L286.87,594.45 L287.26,595.78 L287.67,597.10 L288.14,598.39 L288.66,599.65 L289.26,600.86 L289.95,602.03 L290.72,603.17 L291.55,604.28 L292.42,605.36 L293.33,606.43 L294.26,607.48 L295.20,608.53 L296.14,609.58 L297.05,610.65 L297.94,611.72" fill="none" stroke="#7aaee6" stroke-width="2.6" stroke-linejoin="round" stroke-linecap="round"/>
<path d="M89.24,502.30 L89.41,503.66 L89.57,505.01 L89.73,506.36 L89.88,507.71 L90.03,509.06 L90.19,510.40 L90.35,511.76 L90.52,513.12 L90.70,514.49 L90.89,515.88 L91.10,517.27 L91.33,518.69 L91.55,519.97 L91.78,521.28 L92.01,522.62 L92.26,523.97 L92.51,525.35 L92.78,526.72 L93.05,528.11 L93.33,529.48 L93.62,530.85 L93.91,532.19 L94.22,533.51 L94.53,534.81 L94.85,536.06 L95.18,537.28 L95.51,538.44 L95.97,539.94 L96.44,541.41 L96.93,542.85 L97.43,544.25 L97.94,545.60 L98.47,546.88 L99.01,548.10 L99.56,549.24 L100.11,550.29 L100.99,551.78 L101.87,553.08 L102.82,554.23 L103.88,555.23 L104.99,556.01 L106.19,556.62 L107.48,557.16 L108.90,557.70 L109.99,558.13 L111.10,558.55 L112.24,558.96 L113.49,559.35 L114.86,559.72 L116.42,560.06 L118.20,560.37 L119.01,560.48 L119.86,560.58 L120.77,560.67 L121.73,560.75 L122.74,560.83 L123.80,560.90 L124.90,560.96 L126.04,561.01 L127.22,561.06 L128.44,561.10 L129.69,561.14 L130.97,561.17 L132.29,561.19 L133.64,561.21 L135.01,561.23 L136.41,561.24 L137.82,561.25 L139.26,561.25 L140.72,561.25 L142.19,561.25 L143.68,561.24 L145.17,561.24 L146.68,561.23 L148.19,561.22 L149.71,561.21 L151.23,561.19 L152.75,561.18 L154.27,561.17 L155.79,561.16 L157.30,561.15 L158.80,561.13 L160.29,561.13 L161.77,561.12 L163.24,561.11 L164.68,561.11 L166.11,561.11 L167.52,561.11 L168.90,561.12 L170.26,561.13 L171.59,561.14 L172.89,561.16 L174.29,561.18 L175.69,561.19 L177.08,561.21 L178.49,561.22 L179.89,561.24 L181.29,561.25 L182.69,561.26 L184.08,561.26 L185.48,561.27 L186.88,561.28 L188.27,561.28 L189.66,561.29 L191.05,561.30 L192.43,561.30 L193.81,561.31 L195.19,561.32 L196.56,561.33 L197.92,561.34 L199.29,561.35 L200.64,561.37 L201.99,561.38 L203.33,561.40 L204.67,561.42 L206.00,561.44 L207.32,561.47 L208.64,561.50 L209.94,561.53 L211.24,561.57 L212.53,561.61 L213.81,561.65 L215.07,561.70 L216.33,561.76 L217.58,561.81 L218.82,561.88 L220.04,561.95 L221.52,562.04 L223.00,562.13 L224.48,562.23 L225.96,562.34 L227.43,562.46 L228.89,562.57 L230.35,562.70 L231.80,562.82 L233.24,562.96 L234.67,563.09 L236.08,563.23 L237.47,563.37 L238.85,563.52 L240.21,563.66 L241.56,563.81 L242.87,563.96 L244.17,564.12 L245.44,564.27 L246.69,564.43 L247.90,564.58 L249.09,564.74 L250.25,564.89 L251.37,565.05 L252.46,565.21 L254.15,565.45 L255.80,565.69 L257.40,565.93 L258.94,566.18 L260.42,566.43 L261.82,566.69 L263.15,566.96 L264.39,567.24 L265.53,567.55 L266.57,567.87 L268.25,568.44 L269.62,569.05 L270.86,570.04 L271.60,570.96 L272.27,572.08 L272.89,573.36 L273.47,574.76 L274.03,576.24 L274.58,577.74 L275.15,579.23 L275.58,580.39 L276.01,581.61 L276.42,582.87 L276.82,584.17 L277.22,585.49 L277.62,586.82 L278.02,588.15 L278.41,589.48 L278.82,590.77 L279.23,592.04 L279.64,593.25 L280.15,594.71 L280.63,596.17 L281.11,597.60 L281.59,599.01 L282.10,600.38 L282.65,601.71 L283.25,602.99 L283.93,604.22 L284.73,605.42 L285.61,606.54 L286.54,607.60 L287.51,608.63 L288.49,609.65 L289.47,610.67 L290.41,611.72" fill="none" stroke="#3b7cc9" stroke-width="2.6" stroke-linejoin="round" stroke-linecap="round"/>
<path d="M89.24,593.65 L89.44,592.29 L89.63,590.92 L89.81,589.54 L89.99,588.16 L90.17,586.77 L90.35,585.39 L90.54,584.02 L90.73,582.65 L90.93,581.30 L91.14,579.96 L91.36,578.64 L91.60,577.34 L91.85,576.07 L92.16,574.62 L92.47,573.18 L92.80,571.76 L93.13,570.36 L93.48,568.97 L93.85,567.62 L94.23,566.29 L94.64,565.00 L95.06,563.75 L95.51,562.54 L96.08,561.09 L96.65,559.61 L97.25,558.17 L97.89,556.81 L98.57,555.58 L99.31,554.55 L100.11,553.75 L101.47,553.03 L102.98,552.76 L104.92,552.56 L105.79,552.46 L106.72,552.38 L107.74,552.31 L108.82,552.25 L109.96,552.20 L111.18,552.16 L112.44,552.13 L113.77,552.11 L115.15,552.09 L116.58,552.08 L118.05,552.07 L119.56,552.07 L121.12,552.06 L122.71,552.06 L124.33,552.05 L125.98,552.04 L127.65,552.02 L129.35,552.00 L131.06,551.97 L132.10,551.95 L133.18,551.93 L134.29,551.91 L135.45,551.89 L136.64,551.87 L137.87,551.85 L139.13,551.83 L140.43,551.81 L141.75,551.79 L143.10,551.77 L144.48,551.75 L145.88,551.73 L147.30,551.71 L148.75,551.68 L150.22,551.66 L151.70,551.64 L153.20,551.62 L154.71,551.60 L156.24,551.58 L157.78,551.56 L159.32,551.53 L160.88,551.51 L162.44,551.49 L164.00,551.47 L165.57,551.45 L167.14,551.42 L168.70,551.40 L170.26,551.38 L171.82,551.36 L173.38,551.34 L174.92,551.31 L176.45,551.29 L177.98,551.27 L179.49,551.25 L180.98,551.22 L182.46,551.20 L183.92,551.18 L185.36,551.15 L186.78,551.13 L188.17,551.11 L189.54,551.09 L190.88,551.06 L192.20,551.04 L193.48,551.02 L194.73,550.99 L195.95,550.97 L197.13,550.95 L198.27,550.93 L199.38,550.90 L200.44,550.88 L201.46,550.86 L202.44,550.83 L203.37,550.81 L204.26,550.79 L206.12,550.73 L207.83,550.68 L209.39,550.63 L210.83,550.58 L212.19,550.53 L213.50,550.48 L214.76,550.42 L216.03,550.37 L217.31,550.31 L218.64,550.25 L220.04,550.19 L221.41,550.14 L222.78,550.09 L224.15,550.05 L225.53,550.01 L226.91,549.96 L228.29,549.91 L229.67,549.86 L231.05,549.80 L232.43,549.72 L233.81,549.63 L235.19,549.53 L236.57,549.40 L237.96,549.27 L239.38,549.14 L240.81,549.00 L242.25,548.85 L243.69,548.70 L245.12,548.53 L246.54,548.33 L247.93,548.12 L249.29,547.88 L250.61,547.60 L251.87,547.29 L253.09,546.93 L254.52,546.48 L255.91,546.02 L257.26,545.53 L258.56,544.99 L259.80,544.37 L260.97,543.67 L262.09,542.85 L263.12,541.90 L263.94,540.96 L264.68,539.92 L265.36,538.78 L265.98,537.56 L266.56,536.27 L267.10,534.93 L267.63,533.54 L268.14,532.11 L268.65,530.67 L269.17,529.22 L269.71,527.78 L270.16,526.56 L270.61,525.31 L271.05,524.02 L271.49,522.70 L271.92,521.36 L272.34,519.99 L272.76,518.61 L273.17,517.21 L273.57,515.81 L273.98,514.41 L274.37,513.01 L274.77,511.62 L275.15,510.25 L275.54,508.89 L275.92,507.55 L276.30,506.25 L276.69,504.91 L277.08,503.60 L277.47,502.32 L277.86,501.05 L278.25,499.79 L278.63,498.54 L279.00,497.28 L279.36,496.03 L279.72,494.76 L280.06,493.47 L280.40,492.17 L280.72,490.84 L281.02,489.47 L281.32,488.07 L281.55,486.83 L281.78,485.57 L281.99,484.28 L282.19,482.98 L282.37,481.65 L282.55,480.32 L282.72,478.96 L282.88,477.60 L283.04,476.22 L283.19,474.84 L283.34,473.45 L283.49,472.06 L283.63,470.67 L283.78,469.27 L283.93,467.89 L284.08,466.50 L284.23,465.12 L284.39,463.75 L284.56,462.40" fill="none" stroke="#3b7cc9" stroke-width="2.6" stroke-linejoin="round" stroke-linecap="round"/>
<path d="M89.24,507.53 L89.42,508.90 L89.60,510.26 L89.76,511.63 L89.93,512.99 L90.09,514.35 L90.27,515.71 L90.45,517.08 L90.64,518.45 L90.85,519.84 L91.08,521.23 L91.33,522.64 L91.58,523.95 L91.85,525.30 L92.13,526.67 L92.42,528.06 L92.72,529.45 L93.03,530.85 L93.36,532.24 L93.69,533.62 L94.04,534.97 L94.39,536.30 L94.76,537.59 L95.13,538.83 L95.51,540.02 L96.03,541.54 L96.57,543.03 L97.13,544.48 L97.70,545.88 L98.29,547.22 L98.89,548.49 L99.50,549.68 L100.11,550.79 L100.99,552.25 L101.88,553.56 L102.82,554.72 L103.88,555.72 L104.99,556.48 L106.19,557.06 L107.49,557.57 L108.90,558.09 L110.00,558.52 L111.10,558.96 L112.25,559.39 L113.49,559.80 L114.86,560.19 L116.42,560.54 L118.20,560.86 L119.01,560.97 L119.86,561.08 L120.77,561.17 L121.73,561.26 L122.74,561.33 L123.80,561.40 L124.90,561.46 L126.04,561.52 L127.22,561.56 L128.43,561.60 L129.69,561.64 L130.97,561.66 L132.29,561.69 L133.64,561.70 L135.01,561.72 L136.40,561.72 L137.82,561.73 L139.26,561.73 L140.72,561.73 L142.19,561.72 L143.68,561.71 L145.17,561.70 L146.68,561.69 L148.19,561.68 L149.71,561.67 L151.23,561.65 L152.75,561.64 L154.27,561.63 L155.79,561.61 L157.30,561.60 L158.80,561.59 L160.29,561.58 L161.77,561.57 L163.24,561.57 L164.68,561.57 L166.11,561.57 L167.52,561.58 L168.90,561.59 L170.26,561.60 L171.59,561.62 L172.89,561.65 L174.29,561.68 L175.71,561.71 L177.14,561.74 L178.58,561.77 L180.02,561.80 L181.48,561.83 L182.94,561.86 L184.40,561.89 L185.87,561.92 L187.34,561.95 L188.80,561.98 L190.27,562.01 L191.73,562.05 L193.19,562.08 L194.64,562.11 L196.08,562.15 L197.51,562.18 L198.94,562.22 L200.35,562.25 L201.74,562.29 L203.13,562.33 L204.49,562.37 L205.84,562.41 L207.16,562.46 L208.47,562.50 L209.75,562.55 L211.01,562.59 L212.25,562.64 L213.45,562.69 L214.63,562.74 L215.78,562.80 L216.90,562.85 L217.98,562.91 L219.03,562.97 L220.04,563.03 L221.70,563.14 L223.28,563.23 L224.78,563.33 L226.21,563.42 L227.58,563.52 L228.90,563.63 L230.18,563.75 L231.42,563.88 L232.64,564.03 L233.85,564.20 L235.05,564.39 L236.25,564.61 L237.74,564.91 L239.20,565.23 L240.63,565.56 L242.01,565.93 L243.35,566.33 L244.65,566.78 L245.91,567.30 L247.13,567.87 L248.35,568.54 L249.53,569.26 L250.65,570.04 L251.74,570.88 L252.78,571.78 L253.78,572.75 L254.76,573.80 L255.59,574.81 L256.38,575.91 L257.14,577.09 L257.86,578.31 L258.56,579.58 L259.25,580.86 L259.92,582.15 L260.58,583.42 L261.24,584.66 L261.88,585.84 L262.49,587.01 L263.09,588.18 L263.68,589.34 L264.25,590.52 L264.83,591.72 L265.40,592.95 L265.98,594.21 L266.57,595.52 L267.07,596.66 L267.57,597.83 L268.06,599.03 L268.56,600.25 L269.06,601.50 L269.56,602.77 L270.06,604.05 L270.56,605.34 L271.06,606.63 L271.56,607.91 L272.06,609.20 L272.56,610.47 L273.06,611.72" fill="none" stroke="#1d3f6e" stroke-width="2.6" stroke-linejoin="round" stroke-linecap="round"/>
<path d="M89.24,569.35 L89.83,568.08 L90.41,566.79 L91.00,565.50 L91.58,564.23 L92.18,562.97 L92.80,561.75 L93.49,560.38 L94.19,559.00 L94.91,557.66 L95.66,556.42 L96.45,555.33 L97.59,554.04 L98.79,552.94 L100.11,552.17 L101.49,551.86 L102.99,551.86 L104.92,551.87 L105.79,551.85 L106.73,551.82 L107.74,551.80 L108.83,551.78 L109.97,551.77 L111.18,551.76 L112.45,551.75 L113.78,551.74 L115.16,551.73 L116.58,551.72 L118.06,551.71 L119.57,551.70 L121.12,551.69 L122.71,551.68 L124.33,551.67 L125.98,551.65 L127.65,551.63 L129.35,551.61 L131.06,551.58 L132.10,551.56 L133.18,551.54 L134.30,551.52 L135.45,551.50 L136.64,551.48 L137.87,551.46 L139.14,551.43 L140.43,551.41 L141.75,551.39 L143.10,551.36 L144.48,551.34 L145.88,551.31 L147.31,551.28 L148.76,551.26 L150.22,551.23 L151.71,551.20 L153.21,551.17 L154.72,551.14 L156.25,551.11 L157.79,551.08 L159.34,551.05 L160.89,551.02 L162.45,550.99 L164.02,550.96 L165.58,550.92 L167.15,550.89 L168.72,550.85 L170.28,550.82 L171.84,550.79 L173.39,550.75 L174.94,550.71 L176.47,550.68 L177.99,550.64 L179.50,550.60 L181.00,550.57 L182.48,550.53 L183.94,550.49 L185.38,550.45 L186.79,550.41 L188.19,550.38 L189.56,550.34 L190.90,550.30 L192.21,550.26 L193.49,550.22 L194.74,550.18 L195.96,550.13 L197.14,550.09 L198.28,550.05 L199.39,550.01 L200.45,549.97 L201.47,549.93 L202.44,549.88 L203.37,549.84 L204.26,549.80 L206.11,549.70 L207.81,549.61 L209.36,549.52 L210.79,549.43 L212.14,549.34 L213.44,549.25 L214.69,549.14 L215.95,549.03 L217.22,548.90 L218.54,548.77 L219.94,548.61 L221.32,548.46 L222.73,548.31 L224.14,548.15 L225.57,547.98 L227.01,547.81 L228.43,547.63 L229.85,547.43 L231.25,547.21 L232.63,546.98 L233.98,546.73 L235.29,546.45 L236.57,546.14 L237.98,545.78 L239.37,545.40 L240.72,545.01 L242.05,544.59 L243.35,544.15 L244.61,543.66 L245.84,543.13 L247.03,542.54 L248.17,541.90 L249.35,541.15 L250.48,540.33 L251.58,539.47 L252.63,538.55 L253.64,537.59 L254.61,536.59 L255.54,535.55 L256.43,534.49 L257.29,533.38 L258.10,532.22 L258.87,531.02 L259.59,529.78 L260.28,528.51 L260.94,527.21 L261.57,525.87 L262.18,524.52 L262.70,523.30 L263.18,522.07 L263.64,520.81 L264.08,519.54 L264.49,518.23 L264.89,516.90 L265.27,515.54 L265.65,514.16 L266.01,512.74 L266.36,511.28 L266.64,510.09 L266.91,508.88 L267.16,507.66 L267.41,506.41 L267.64,505.14 L267.87,503.86 L268.09,502.56 L268.30,501.23 L268.51,499.89 L268.71,498.53 L268.91,497.15 L269.11,495.75 L269.31,494.33 L269.51,492.89 L269.71,491.43 L269.87,490.24 L270.03,489.02 L270.18,487.78 L270.33,486.52 L270.48,485.24 L270.63,483.94 L270.77,482.63 L270.91,481.31 L271.05,479.97 L271.19,478.62 L271.32,477.27 L271.46,475.91 L271.60,474.54 L271.73,473.17 L271.86,471.79 L272.00,470.42 L272.13,469.04 L272.27,467.67 L272.40,466.31 L272.54,464.94 L272.67,463.59 L272.81,462.25 L272.95,460.91" fill="none" stroke="#1d3f6e" stroke-width="2.6" stroke-linejoin="round" stroke-linecap="round"/>
<text x="86.30" y="478.88" font-size="12.9" text-anchor="start" font-weight="normal" fill="#262626" stroke="#262626" stroke-width="0.3">IWQ-LTO, 5C</text>
<text x="203.70" y="591.74" font-size="12.5" text-anchor="start" font-weight="bold" fill="#1d3f6e" stroke="#1d3f6e" stroke-width="0.2">2500th</text>
<text x="273.80" y="556.44" font-size="12.5" text-anchor="start" font-weight="bold" fill="#3b7cc9" stroke="#3b7cc9" stroke-width="0.2">2nd</text>
<text x="296.00" y="577.84" font-size="12.5" text-anchor="start" font-weight="bold" fill="#7aaee6" stroke="#7aaee6" stroke-width="0.2">1st</text>
<line x1="242.20" y1="578.70" x2="251.40" y2="572.20" stroke="#1d3f6e" stroke-width="1.3"/>
<line x1="267.70" y1="567.30" x2="275.80" y2="559.20" stroke="#3b7cc9" stroke-width="1.3"/>
<line x1="283.90" y1="584.70" x2="294.70" y2="576.50" stroke="#7aaee6" stroke-width="1.3"/>
<path d="M399.56,32.82 L400.81,29.13 L402.07,29.29 L403.33,29.08 L404.59,29.06 L405.84,29.57 L407.10,29.61 L408.36,28.86 L409.62,29.39 L410.87,29.41 L412.13,28.72 L413.39,29.20 L414.65,28.86 L415.90,29.19 L417.16,29.04 L418.42,29.49 L419.67,29.05 L420.93,28.83 L422.19,29.15 L423.45,28.95 L424.70,29.01 L425.96,29.57 L427.22,28.93 L428.48,29.09 L429.73,29.35 L430.99,29.60 L432.25,28.84 L433.51,29.20 L434.76,28.97 L436.02,28.82 L437.28,28.97 L438.53,28.79 L439.79,29.27 L441.05,28.90 L442.31,29.22 L443.56,28.77 L444.82,28.82 L446.08,29.54 L447.34,29.50 L448.59,29.43 L449.85,28.75 L451.11,29.23 L452.37,29.05 L453.62,29.35 L454.88,29.16 L456.14,29.27 L457.39,29.31 L458.65,29.09 L459.91,29.09 L461.17,28.80 L462.42,29.00 L463.68,28.78 L464.94,28.84 L466.20,28.72 L467.45,29.01 L468.71,29.48 L469.97,28.84 L471.23,28.75 L472.48,28.80 L473.74,29.11 L475.00,28.98 L476.25,29.43 L477.51,28.87 L478.77,29.10 L480.03,29.37 L481.28,29.57 L482.54,28.85 L483.80,28.72 L485.06,29.55 L486.31,28.90 L487.57,29.25 L488.83,29.49 L490.09,29.36 L491.34,28.92 L492.60,28.83 L493.86,29.59 L495.11,29.07 L496.37,29.59 L497.63,28.97 L498.89,29.32 L500.14,28.82 L501.40,28.73 L502.66,29.17 L503.92,28.72 L505.17,29.34 L506.43,29.56 L507.69,29.08 L508.95,29.60 L510.20,29.45 L511.46,29.25 L512.72,29.07 L513.97,29.48 L515.23,29.59 L516.49,28.83 L517.75,29.34 L519.00,28.75 L520.26,28.81 L521.52,29.28 L522.78,29.21 L524.03,29.15 L525.29,29.04 L526.55,29.08 L527.81,29.12 L529.06,29.06 L530.32,28.77 L531.58,29.16 L532.83,29.23 L534.09,28.97 L535.35,29.41 L536.61,29.35 L537.86,28.73 L539.12,29.15 L540.38,29.13 L541.64,29.62 L542.89,29.25 L544.15,29.10 L545.41,29.61 L546.67,29.06 L547.92,29.05 L549.18,29.57 L550.44,29.05 L551.69,29.20 L552.95,29.01 L554.21,29.30 L555.47,28.98 L556.72,28.95 L557.98,29.61 L559.24,29.57 L560.50,29.01 L561.75,28.75 L563.01,29.40 L564.27,29.21 L565.53,29.09 L566.78,29.33 L568.04,29.29 L569.30,29.34 L570.55,29.29 L571.81,29.08 L573.07,29.35 L574.33,29.28 L575.58,28.92 L576.84,29.60 L578.10,29.11 L579.36,28.96 L580.61,29.34 L581.87,29.42 L583.13,28.89 L584.39,29.41 L585.64,29.46 L586.90,29.23 L588.16,28.99 L589.41,29.53 L590.67,29.33 L591.93,29.32 L593.19,28.87 L594.44,29.23 L595.70,28.85 L596.96,29.47 L598.22,29.32 L599.47,27.21 L600.73,26.99 L601.99,27.39 L603.25,27.60 L604.50,27.69 L605.76,27.32 L607.02,27.63 L608.27,27.06 L609.53,27.04 L610.79,27.63 L612.05,29.37 L613.30,28.89 L614.56,29.04 L615.82,28.89 L617.08,29.31 L618.33,29.51 L619.59,28.14 L620.85,27.68 L622.11,28.16 L623.36,28.09 L624.62,28.03 L625.88,29.24 L627.13,29.25 L628.39,28.79 L629.65,29.48 L630.91,29.62 L632.16,28.77 L633.42,28.82 L634.68,28.73 L635.94,29.23 L637.19,28.76 L638.45,28.78 L639.71,29.42 L640.97,28.95 L642.22,28.86 L643.48,29.02 L644.74,29.15 L645.99,29.36 L647.25,29.32 L648.51,29.42 L649.77,29.56 L651.02,29.09 L652.28,29.36 L653.54,28.89 L654.80,29.59 L656.05,28.80 L657.31,28.99 L658.57,28.78 L659.83,28.81 L661.08,28.81 L662.34,29.10 L663.60,29.61 L664.85,28.95 L666.11,29.47 L667.37,29.35 L668.63,29.02 L669.88,29.15 L671.14,29.25 L672.40,28.77 L673.66,29.07 L674.91,29.32 L676.17,29.40 L677.43,28.84 L678.69,29.19 L679.94,28.91 L681.20,29.31 L682.46,29.45 L683.71,29.14 L684.97,28.88 L686.23,29.47 L687.49,28.90 L688.74,28.79 L690.00,28.89 L691.26,28.87 L692.52,29.62 L693.77,29.05 L695.03,28.84 L696.29,29.58 L697.55,29.38 L698.80,29.38 L700.06,29.15 L701.32,29.24 L702.57,29.20 L703.83,28.92 L705.09,29.63 L706.35,29.58 L707.60,29.51 L708.86,29.51 L710.12,29.56 L711.38,28.74 L712.63,28.85 L713.89,29.55 L715.15,29.17 L716.41,29.34 L717.66,29.34 L718.92,29.31 L720.18,29.04 L721.43,29.09 L722.69,29.30 L723.95,29.45 L725.21,29.33 L726.46,29.51 L727.72,29.12 L728.98,28.97 L730.24,29.28 L731.49,29.55 L732.75,29.46 L734.01,29.29 L735.27,29.08 L736.52,28.91 L737.78,29.28 L739.04,28.90 L740.29,29.06 L741.55,29.23 L742.81,29.29 L744.07,29.17 L745.32,28.99 L746.58,29.24 L747.84,28.99 L749.10,29.21 L750.35,29.40 L751.61,29.14 L752.87,28.99 L754.13,29.56 L755.38,29.24 L756.64,29.24 L757.90,28.82 L759.15,28.77 L760.41,29.29 L761.67,28.81 L762.93,28.90 L764.18,29.39 L765.44,29.20 L766.70,29.51 L767.96,28.88 L769.21,29.02 L770.47,28.82 L771.73,28.90 L772.99,29.02 L774.24,28.96 L775.50,29.11" fill="none" stroke="#3479c6" stroke-width="1.3" stroke-linejoin="round" stroke-linecap="round"/>
<g fill="#fff" stroke="#3479c6" stroke-width="2.6"><circle cx="771.73" cy="28.90" r="2.45"/><circle cx="765.44" cy="29.20" r="2.45"/><circle cx="759.15" cy="28.77" r="2.45"/><circle cx="752.87" cy="28.99" r="2.45"/><circle cx="746.58" cy="29.24" r="2.45"/><circle cx="740.29" cy="29.06" r="2.45"/><circle cx="734.01" cy="29.29" r="2.45"/><circle cx="727.72" cy="29.12" r="2.45"/><circle cx="721.43" cy="29.09" r="2.45"/><circle cx="715.15" cy="29.17" r="2.45"/><circle cx="708.86" cy="29.51" r="2.45"/><circle cx="702.57" cy="29.20" r="2.45"/><circle cx="696.29" cy="29.58" r="2.45"/><circle cx="690.00" cy="28.89" r="2.45"/><circle cx="683.71" cy="29.14" r="2.45"/><circle cx="677.43" cy="28.84" r="2.45"/><circle cx="671.14" cy="29.25" r="2.45"/><circle cx="664.85" cy="28.95" r="2.45"/><circle cx="658.57" cy="28.78" r="2.45"/><circle cx="652.28" cy="29.36" r="2.45"/><circle cx="645.99" cy="29.36" r="2.45"/><circle cx="639.71" cy="29.42" r="2.45"/><circle cx="633.42" cy="28.82" r="2.45"/><circle cx="627.13" cy="29.25" r="2.45"/><circle cx="620.85" cy="27.68" r="2.45"/><circle cx="614.56" cy="29.04" r="2.45"/><circle cx="608.27" cy="27.06" r="2.45"/><circle cx="601.99" cy="27.39" r="2.45"/><circle cx="595.70" cy="28.85" r="2.45"/><circle cx="589.41" cy="29.53" r="2.45"/><circle cx="583.13" cy="28.89" r="2.45"/><circle cx="576.84" cy="29.60" r="2.45"/><circle cx="570.55" cy="29.29" r="2.45"/><circle cx="564.27" cy="29.21" r="2.45"/><circle cx="557.98" cy="29.61" r="2.45"/><circle cx="551.69" cy="29.20" r="2.45"/><circle cx="545.41" cy="29.61" r="2.45"/><circle cx="539.12" cy="29.15" r="2.45"/><circle cx="532.83" cy="29.23" r="2.45"/><circle cx="526.55" cy="29.08" r="2.45"/><circle cx="520.26" cy="28.81" r="2.45"/><circle cx="513.97" cy="29.48" r="2.45"/><circle cx="507.69" cy="29.08" r="2.45"/><circle cx="501.40" cy="28.73" r="2.45"/><circle cx="495.11" cy="29.07" r="2.45"/><circle cx="488.83" cy="29.49" r="2.45"/><circle cx="482.54" cy="28.85" r="2.45"/><circle cx="476.25" cy="29.43" r="2.45"/><circle cx="469.97" cy="28.84" r="2.45"/><circle cx="463.68" cy="28.78" r="2.45"/><circle cx="457.39" cy="29.31" r="2.45"/><circle cx="451.11" cy="29.23" r="2.45"/><circle cx="444.82" cy="28.82" r="2.45"/><circle cx="438.53" cy="28.79" r="2.45"/><circle cx="432.25" cy="28.84" r="2.45"/><circle cx="425.96" cy="29.57" r="2.45"/><circle cx="419.67" cy="29.05" r="2.45"/><circle cx="413.39" cy="29.20" r="2.45"/><circle cx="407.10" cy="29.61" r="2.45"/><circle cx="400.81" cy="29.13" r="2.45"/></g>
<path d="M399.56,111.73 L400.81,117.01 L402.07,117.14 L403.33,117.23 L404.59,117.20 L405.84,117.19 L407.10,117.04 L408.36,117.27 L409.62,117.30 L410.87,117.11 L412.13,117.14 L413.39,117.01 L414.65,117.35 L415.90,117.19 L417.16,117.21 L418.42,117.41 L419.67,116.95 L420.93,117.34 L422.19,117.42 L423.45,117.24 L424.70,117.41 L425.96,117.20 L427.22,117.35 L428.48,117.48 L429.73,117.53 L430.99,117.20 L432.25,117.45 L433.51,117.20 L434.76,117.38 L436.02,117.16 L437.28,118.53 L438.53,118.56 L439.79,118.57 L441.05,118.31 L442.31,118.42 L443.56,118.58 L444.82,118.72 L446.08,118.43 L447.34,118.30 L448.59,118.51 L449.85,118.82 L451.11,118.82 L452.37,118.80 L453.62,118.78 L454.88,118.86 L456.14,118.87 L457.39,118.58 L458.65,118.47 L459.91,118.84 L461.17,118.46 L462.42,118.73 L463.68,118.58 L464.94,118.53 L466.20,118.54 L467.45,119.01 L468.71,118.88 L469.97,118.75 L471.23,118.59 L472.48,119.04 L473.74,118.95 L475.00,120.34 L476.25,120.72 L477.51,120.59 L478.77,120.62 L480.03,120.46 L481.28,120.34 L482.54,120.72 L483.80,120.45 L485.06,120.46 L486.31,120.41 L487.57,120.56 L488.83,120.38 L490.09,120.67 L491.34,120.65 L492.60,120.75 L493.86,120.49 L495.11,120.64 L496.37,120.76 L497.63,120.81 L498.89,120.54 L500.14,120.61 L501.40,120.56 L502.66,120.73 L503.92,120.69 L505.17,120.86 L506.43,120.59 L507.69,120.94 L508.95,120.73 L510.20,120.59 L511.46,120.64 L512.72,122.81 L513.97,122.75 L515.23,122.45 L516.49,122.56 L517.75,122.45 L519.00,122.46 L520.26,122.68 L521.52,122.46 L522.78,122.55 L524.03,122.76 L525.29,122.75 L526.55,122.90 L527.81,122.75 L529.06,122.47 L530.32,122.91 L531.58,122.68 L532.83,122.92 L534.09,122.94 L535.35,122.66 L536.61,122.88 L537.86,122.98 L539.12,122.94 L540.38,122.70 L541.64,122.73 L542.89,123.03 L544.15,122.93 L545.41,122.56 L546.67,122.95 L547.92,122.78 L549.18,122.86 L550.44,123.10 L551.69,123.20 L552.95,123.12 L554.21,123.26 L555.47,123.45 L556.72,123.47 L557.98,123.54 L559.24,123.18 L560.50,123.55 L561.75,123.61 L563.01,123.15 L564.27,123.55 L565.53,123.21 L566.78,123.63 L568.04,123.46 L569.30,123.59 L570.55,123.30 L571.81,123.43 L573.07,123.43 L574.33,123.38 L575.58,123.34 L576.84,123.62 L578.10,123.50 L579.36,123.60 L580.61,123.78 L581.87,123.43 L583.13,123.57 L584.39,123.47 L585.64,123.79 L586.90,123.64 L588.16,124.72 L589.41,124.59 L590.67,124.93 L591.93,124.80 L593.19,124.74 L594.44,124.95 L595.70,124.72 L596.96,124.63 L598.22,124.80 L599.47,124.69 L600.73,124.72 L601.99,124.92 L603.25,124.86 L604.50,124.54 L605.76,124.88 L607.02,124.84 L608.27,125.02 L609.53,124.96 L610.79,124.99 L612.05,124.61 L613.30,124.72 L614.56,124.66 L615.82,124.61 L617.08,124.80 L618.33,124.65 L619.59,124.85 L620.85,124.92 L622.11,124.66 L623.36,124.69 L624.62,124.67 L625.88,124.91 L627.13,124.77 L628.39,117.43 L629.65,117.14 L630.91,117.19 L632.16,117.51 L633.42,117.20 L634.68,117.58 L635.94,117.64 L637.19,117.33 L638.45,117.55 L639.71,117.45 L640.97,117.40 L642.22,117.71 L643.48,117.36 L644.74,117.61 L645.99,117.54 L647.25,117.59 L648.51,117.40 L649.77,117.41 L651.02,117.65 L652.28,117.75 L653.54,117.66 L654.80,117.61 L656.05,117.79 L657.31,117.76 L658.57,117.46 L659.83,117.50 L661.08,117.37 L662.34,117.38 L663.60,117.44 L664.85,117.70 L666.11,117.82 L667.37,117.75 L668.63,117.68 L669.88,117.66 L671.14,117.66 L672.40,117.76 L673.66,117.52 L674.91,117.82 L676.17,117.74 L677.43,117.53 L678.69,117.58 L679.94,117.85 L681.20,117.88 L682.46,117.61 L683.71,118.02 L684.97,117.97 L686.23,117.77 L687.49,117.78 L688.74,117.98 L690.00,118.04 L691.26,117.97 L692.52,117.70 L693.77,117.86 L695.03,117.61 L696.29,117.72 L697.55,117.63 L698.80,118.11 L700.06,118.05 L701.32,118.14 L702.57,117.94 L703.83,118.00 L705.09,118.15 L706.35,117.91 L707.60,118.15 L708.86,118.05 L710.12,118.09 L711.38,117.82 L712.63,118.02 L713.89,118.11 L715.15,118.22 L716.41,118.04 L717.66,117.95 L718.92,117.93 L720.18,117.82 L721.43,117.89 L722.69,118.18 L723.95,118.24 L725.21,117.94 L726.46,117.93 L727.72,118.08 L728.98,117.93 L730.24,118.08 L731.49,118.22 L732.75,118.29 L734.01,118.37 L735.27,118.07 L736.52,117.95 L737.78,117.95 L739.04,118.18 L740.29,118.09 L741.55,117.97 L742.81,118.03 L744.07,118.15 L745.32,118.25 L746.58,118.21 L747.84,118.39 L749.10,118.40 L750.35,118.15 L751.61,118.01 L752.87,118.24 L754.13,118.32 L755.38,118.36 L756.64,118.31 L757.90,118.15 L759.15,118.33 L760.41,118.09 L761.67,118.50 L762.93,118.43 L764.18,118.33 L765.44,118.40 L766.70,118.19 L767.96,118.21 L769.21,118.16 L770.47,118.33 L771.73,118.63 L772.99,118.37 L774.24,118.39 L775.50,118.43" fill="none" stroke="#f3a56a" stroke-width="1.3" stroke-linejoin="round" stroke-linecap="round"/>
<g fill="#fff" stroke="#f3a56a" stroke-width="2.6"><circle cx="770.47" cy="118.33" r="2.45"/><circle cx="764.18" cy="118.33" r="2.45"/><circle cx="757.90" cy="118.15" r="2.45"/><circle cx="751.61" cy="118.01" r="2.45"/><circle cx="745.32" cy="118.25" r="2.45"/><circle cx="739.04" cy="118.18" r="2.45"/><circle cx="732.75" cy="118.29" r="2.45"/><circle cx="726.46" cy="117.93" r="2.45"/><circle cx="720.18" cy="117.82" r="2.45"/><circle cx="713.89" cy="118.11" r="2.45"/><circle cx="707.60" cy="118.15" r="2.45"/><circle cx="701.32" cy="118.14" r="2.45"/><circle cx="695.03" cy="117.61" r="2.45"/><circle cx="688.74" cy="117.98" r="2.45"/><circle cx="682.46" cy="117.61" r="2.45"/><circle cx="676.17" cy="117.74" r="2.45"/><circle cx="669.88" cy="117.66" r="2.45"/><circle cx="663.60" cy="117.44" r="2.45"/><circle cx="657.31" cy="117.76" r="2.45"/><circle cx="651.02" cy="117.65" r="2.45"/><circle cx="644.74" cy="117.61" r="2.45"/><circle cx="638.45" cy="117.55" r="2.45"/><circle cx="632.16" cy="117.51" r="2.45"/><circle cx="625.88" cy="124.91" r="2.45"/><circle cx="619.59" cy="124.85" r="2.45"/><circle cx="613.30" cy="124.72" r="2.45"/><circle cx="607.02" cy="124.84" r="2.45"/><circle cx="600.73" cy="124.72" r="2.45"/><circle cx="594.44" cy="124.95" r="2.45"/><circle cx="588.16" cy="124.72" r="2.45"/><circle cx="581.87" cy="123.43" r="2.45"/><circle cx="575.58" cy="123.34" r="2.45"/><circle cx="569.30" cy="123.59" r="2.45"/><circle cx="563.01" cy="123.15" r="2.45"/><circle cx="556.72" cy="123.47" r="2.45"/><circle cx="550.44" cy="123.10" r="2.45"/><circle cx="544.15" cy="122.93" r="2.45"/><circle cx="537.86" cy="122.98" r="2.45"/><circle cx="531.58" cy="122.68" r="2.45"/><circle cx="525.29" cy="122.75" r="2.45"/><circle cx="519.00" cy="122.46" r="2.45"/><circle cx="512.72" cy="122.81" r="2.45"/><circle cx="506.43" cy="120.59" r="2.45"/><circle cx="500.14" cy="120.61" r="2.45"/><circle cx="493.86" cy="120.49" r="2.45"/><circle cx="487.57" cy="120.56" r="2.45"/><circle cx="481.28" cy="120.34" r="2.45"/><circle cx="475.00" cy="120.34" r="2.45"/><circle cx="468.71" cy="118.88" r="2.45"/><circle cx="462.42" cy="118.73" r="2.45"/><circle cx="456.14" cy="118.87" r="2.45"/><circle cx="449.85" cy="118.82" r="2.45"/><circle cx="443.56" cy="118.58" r="2.45"/><circle cx="437.28" cy="118.53" r="2.45"/><circle cx="430.99" cy="117.20" r="2.45"/><circle cx="424.70" cy="117.41" r="2.45"/><circle cx="418.42" cy="117.41" r="2.45"/><circle cx="412.13" cy="117.14" r="2.45"/><circle cx="405.84" cy="117.19" r="2.45"/><circle cx="399.56" cy="111.73" r="2.45"/></g>
<path d="M399.56,97.07 L400.81,96.84 L402.07,97.15 L403.33,97.09 L404.59,96.79 L405.84,97.17 L407.10,97.16 L408.36,97.17 L409.62,96.80 L410.87,97.16 L412.13,97.26 L413.39,96.86 L414.65,97.24 L415.90,96.89 L417.16,96.99 L418.42,96.92 L419.67,96.88 L420.93,97.08 L422.19,96.98 L423.45,97.38 L424.70,97.03 L425.96,97.17 L427.22,97.08 L428.48,97.40 L429.73,97.09 L430.99,97.01 L432.25,97.47 L433.51,97.35 L434.76,97.24 L436.02,97.13 L437.28,99.30 L438.53,99.35 L439.79,99.33 L441.05,99.16 L442.31,99.10 L443.56,99.30 L444.82,99.33 L446.08,99.33 L447.34,99.36 L448.59,99.34 L449.85,99.53 L451.11,99.33 L452.37,99.11 L453.62,99.41 L454.88,99.25 L456.14,99.56 L457.39,99.31 L458.65,99.29 L459.91,99.35 L461.17,99.44 L462.42,99.47 L463.68,99.41 L464.94,99.29 L466.20,99.68 L467.45,99.72 L468.71,99.41 L469.97,99.34 L471.23,99.55 L472.48,99.61 L473.74,99.48 L475.00,102.05 L476.25,102.03 L477.51,102.07 L478.77,101.89 L480.03,102.04 L481.28,102.10 L482.54,101.88 L483.80,101.77 L485.06,102.11 L486.31,101.92 L487.57,102.08 L488.83,101.88 L490.09,102.02 L491.34,102.20 L492.60,102.24 L493.86,102.35 L495.11,102.14 L496.37,102.20 L497.63,102.32 L498.89,102.24 L500.14,102.27 L501.40,102.06 L502.66,102.39 L503.92,101.98 L505.17,102.25 L506.43,102.21 L507.69,102.29 L508.95,102.12 L510.20,102.14 L511.46,102.28 L512.72,104.83 L513.97,104.73 L515.23,104.67 L516.49,104.92 L517.75,104.76 L519.00,104.66 L520.26,104.93 L521.52,105.06 L522.78,105.07 L524.03,104.84 L525.29,104.88 L526.55,104.75 L527.81,104.82 L529.06,105.14 L530.32,105.18 L531.58,105.16 L532.83,105.21 L534.09,104.97 L535.35,104.90 L536.61,104.90 L537.86,105.24 L539.12,104.94 L540.38,105.23 L541.64,105.19 L542.89,105.06 L544.15,105.39 L545.41,105.40 L546.67,105.05 L547.92,105.33 L549.18,105.31 L550.44,106.46 L551.69,106.42 L552.95,106.77 L554.21,106.62 L555.47,106.59 L556.72,106.58 L557.98,106.73 L559.24,106.56 L560.50,106.38 L561.75,106.68 L563.01,106.62 L564.27,106.85 L565.53,106.78 L566.78,106.60 L568.04,106.89 L569.30,106.52 L570.55,106.52 L571.81,106.95 L573.07,106.54 L574.33,106.84 L575.58,106.65 L576.84,106.67 L578.10,106.92 L579.36,106.74 L580.61,106.77 L581.87,106.70 L583.13,106.99 L584.39,106.76 L585.64,106.67 L586.90,106.83 L588.16,107.53 L589.41,107.75 L590.67,107.58 L591.93,107.67 L593.19,107.50 L594.44,107.53 L595.70,107.61 L596.96,107.82 L598.22,107.60 L599.47,107.62 L600.73,107.87 L601.99,107.53 L603.25,107.66 L604.50,107.94 L605.76,107.55 L607.02,107.97 L608.27,107.89 L609.53,107.71 L610.79,107.78 L612.05,107.82 L613.30,107.79 L614.56,107.90 L615.82,107.99 L617.08,108.08 L618.33,108.15 L619.59,107.84 L620.85,107.83 L622.11,97.48 L623.36,97.40 L624.62,97.62 L625.88,97.69 L627.13,97.65 L628.39,97.43 L629.65,97.87 L630.91,97.67 L632.16,97.82 L633.42,97.58 L634.68,97.81 L635.94,97.85 L637.19,97.84 L638.45,97.79 L639.71,97.70 L640.97,97.93 L642.22,97.71 L643.48,98.10 L644.74,98.05 L645.99,98.16 L647.25,98.17 L648.51,97.86 L649.77,97.91 L651.02,98.21 L652.28,98.23 L653.54,98.14 L654.80,98.00 L656.05,97.99 L657.31,98.05 L658.57,98.15 L659.83,98.40 L661.08,98.30 L662.34,98.42 L663.60,98.28 L664.85,98.28 L666.11,98.49 L667.37,98.49 L668.63,98.25 L669.88,98.65 L671.14,98.28 L672.40,98.26 L673.66,98.26 L674.91,98.57 L676.17,98.51 L677.43,98.51 L678.69,98.51 L679.94,98.37 L681.20,98.53 L682.46,98.75 L683.71,98.50 L684.97,98.71 L686.23,98.67 L687.49,98.63 L688.74,99.02 L690.00,98.66 L691.26,98.74 L692.52,98.85 L693.77,98.86 L695.03,98.91 L696.29,99.07 L697.55,98.93 L698.80,99.20 L700.06,98.99 L701.32,98.94 L702.57,99.06 L703.83,99.03 L705.09,98.85 L706.35,98.91 L707.60,99.32 L708.86,99.01 L710.12,99.12 L711.38,99.43 L712.63,99.30 L713.89,99.39 L715.15,99.49 L716.41,99.28 L717.66,99.11 L718.92,99.44 L720.18,99.19 L721.43,99.30 L722.69,99.60 L723.95,99.27 L725.21,99.42 L726.46,99.28 L727.72,99.41 L728.98,99.42 L730.24,99.64 L731.49,99.44 L732.75,99.40 L734.01,99.46 L735.27,99.69 L736.52,99.56 L737.78,99.72 L739.04,99.93 L740.29,99.99 L741.55,99.99 L742.81,99.96 L744.07,100.00 L745.32,99.85 L746.58,99.78 L747.84,99.88 L749.10,99.96 L750.35,99.87 L751.61,100.07 L752.87,100.02 L754.13,99.89 L755.38,100.09 L756.64,100.23 L757.90,99.89 L759.15,100.01 L760.41,100.21 L761.67,100.23 L762.93,100.17 L764.18,100.16 L765.44,100.38 L766.70,100.51 L767.96,100.43 L769.21,100.17 L770.47,100.51 L771.73,100.38 L772.99,100.53 L774.24,100.55 L775.50,100.59" fill="none" stroke="#3479c6" stroke-width="1.3" stroke-linejoin="round" stroke-linecap="round"/>
<g fill="#fff" stroke="#3479c6" stroke-width="2.6"><circle cx="771.73" cy="100.38" r="2.45"/><circle cx="765.44" cy="100.38" r="2.45"/><circle cx="759.15" cy="100.01" r="2.45"/><circle cx="752.87" cy="100.02" r="2.45"/><circle cx="746.58" cy="99.78" r="2.45"/><circle cx="740.29" cy="99.99" r="2.45"/><circle cx="734.01" cy="99.46" r="2.45"/><circle cx="727.72" cy="99.41" r="2.45"/><circle cx="721.43" cy="99.30" r="2.45"/><circle cx="715.15" cy="99.49" r="2.45"/><circle cx="708.86" cy="99.01" r="2.45"/><circle cx="702.57" cy="99.06" r="2.45"/><circle cx="696.29" cy="99.07" r="2.45"/><circle cx="690.00" cy="98.66" r="2.45"/><circle cx="683.71" cy="98.50" r="2.45"/><circle cx="677.43" cy="98.51" r="2.45"/><circle cx="671.14" cy="98.28" r="2.45"/><circle cx="664.85" cy="98.28" r="2.45"/><circle cx="658.57" cy="98.15" r="2.45"/><circle cx="652.28" cy="98.23" r="2.45"/><circle cx="645.99" cy="98.16" r="2.45"/><circle cx="639.71" cy="97.70" r="2.45"/><circle cx="633.42" cy="97.58" r="2.45"/><circle cx="627.13" cy="97.65" r="2.45"/><circle cx="620.85" cy="107.83" r="2.45"/><circle cx="614.56" cy="107.90" r="2.45"/><circle cx="608.27" cy="107.89" r="2.45"/><circle cx="601.99" cy="107.53" r="2.45"/><circle cx="595.70" cy="107.61" r="2.45"/><circle cx="589.41" cy="107.75" r="2.45"/><circle cx="583.13" cy="106.99" r="2.45"/><circle cx="576.84" cy="106.67" r="2.45"/><circle cx="570.55" cy="106.52" r="2.45"/><circle cx="564.27" cy="106.85" r="2.45"/><circle cx="557.98" cy="106.73" r="2.45"/><circle cx="551.69" cy="106.42" r="2.45"/><circle cx="545.41" cy="105.40" r="2.45"/><circle cx="539.12" cy="104.94" r="2.45"/><circle cx="532.83" cy="105.21" r="2.45"/><circle cx="526.55" cy="104.75" r="2.45"/><circle cx="520.26" cy="104.93" r="2.45"/><circle cx="513.97" cy="104.73" r="2.45"/><circle cx="507.69" cy="102.29" r="2.45"/><circle cx="501.40" cy="102.06" r="2.45"/><circle cx="495.11" cy="102.14" r="2.45"/><circle cx="488.83" cy="101.88" r="2.45"/><circle cx="482.54" cy="101.88" r="2.45"/><circle cx="476.25" cy="102.03" r="2.45"/><circle cx="469.97" cy="99.34" r="2.45"/><circle cx="463.68" cy="99.41" r="2.45"/><circle cx="457.39" cy="99.31" r="2.45"/><circle cx="451.11" cy="99.33" r="2.45"/><circle cx="444.82" cy="99.33" r="2.45"/><circle cx="438.53" cy="99.35" r="2.45"/><circle cx="432.25" cy="97.47" r="2.45"/><circle cx="425.96" cy="97.17" r="2.45"/><circle cx="419.67" cy="96.88" r="2.45"/><circle cx="413.39" cy="96.86" r="2.45"/><circle cx="407.10" cy="97.16" r="2.45"/><circle cx="400.81" cy="96.84" r="2.45"/></g>
<line x1="464.00" y1="50.50" x2="494.60" y2="50.50" stroke="#3479c6" stroke-width="2.2"/>
<circle cx="479" cy="50.5" r="2.5" fill="#fff" stroke="#3479c6" stroke-width="2.5"/>
<line x1="464.00" y1="65.80" x2="494.60" y2="65.80" stroke="#f3a56a" stroke-width="2.2"/>
<circle cx="479" cy="65.8" r="2.5" fill="#fff" stroke="#f3a56a" stroke-width="2.5"/>
<text x="497.70" y="55.01" font-size="12.7" text-anchor="start" font-weight="normal" fill="#262626" stroke="#262626" stroke-width="0.3">IWQ-LTO</text>
<text x="497.70" y="70.31" font-size="12.7" text-anchor="start" font-weight="normal" fill="#262626" stroke="#262626" stroke-width="0.3">Pristine LTO</text>
<text x="415.00" y="87.84" font-size="12.5" text-anchor="middle" font-weight="normal" fill="#262626" stroke="#262626" stroke-width="0.3">1C</text>
<text x="452.50" y="90.44" font-size="12.5" text-anchor="middle" font-weight="normal" fill="#262626" stroke="#262626" stroke-width="0.3">2C</text>
<text x="491.00" y="94.44" font-size="12.5" text-anchor="middle" font-weight="normal" fill="#262626" stroke="#262626" stroke-width="0.3">4C</text>
<text x="527.00" y="96.44" font-size="12.5" text-anchor="middle" font-weight="normal" fill="#262626" stroke="#262626" stroke-width="0.3">6C</text>
<text x="566.00" y="98.44" font-size="12.5" text-anchor="middle" font-weight="normal" fill="#262626" stroke="#262626" stroke-width="0.3">8C</text>
<text x="604.00" y="99.04" font-size="12.5" text-anchor="middle" font-weight="normal" fill="#262626" stroke="#262626" stroke-width="0.3">10C</text>
<text x="704.00" y="91.24" font-size="12.5" text-anchor="middle" font-weight="normal" fill="#262626" stroke="#262626" stroke-width="0.3">1C</text>
<path d="M473.70,96.00 L473.70,145.00 L423.30,145.00" fill="none" stroke="#6fbf5e" stroke-width="2.8" stroke-linejoin="round" stroke-linecap="round" stroke-linecap="butt" stroke-linejoin="miter"/>
<polygon points="411.3,145.0 426.8,140.0 422.8,145.0 426.8,150.0" fill="#6fbf5e"/>
<path d="M685.50,25.20 L685.50,41.50 L750.20,41.50" fill="none" stroke="#6fbf5e" stroke-width="2.8" stroke-linejoin="round" stroke-linecap="round" stroke-linecap="butt" stroke-linejoin="miter"/>
<polygon points="762.2,41.5 746.7,36.5 750.7,41.5 746.7,46.5" fill="#6fbf5e"/>
<path d="M398.45,465.21 L400.71,466.57 L402.98,466.41 L405.24,467.48 L407.50,466.86 L409.77,467.29 L412.03,467.18 L414.29,466.78 L416.56,466.76 L418.82,467.20 L421.08,467.80 L423.35,466.96 L425.61,467.91 L427.87,467.70 L430.14,467.20 L432.40,467.86 L434.66,467.96 L436.93,467.16 L439.19,467.20 L441.45,467.99 L443.71,467.93 L445.98,468.09 L448.24,468.30 L450.50,468.18 L452.77,467.31 L455.03,468.43 L457.29,468.27 L459.56,468.32 L461.82,468.49 L464.08,467.96 L466.35,467.71 L468.61,467.61 L470.87,467.88 L473.14,467.66 L475.40,468.66 L477.66,468.34 L479.93,467.52 L482.19,468.62 L484.45,468.39 L486.72,468.13 L488.98,468.40 L491.24,468.07 L493.51,468.69 L495.77,468.46 L498.03,467.59 L500.29,468.59 L502.56,467.67 L504.82,468.56 L507.08,467.57 L509.35,467.96 L511.61,468.00 L513.87,468.62 L516.14,468.73 L518.40,467.88 L520.66,468.59 L522.93,468.58 L525.19,467.81 L527.45,467.75 L529.72,468.76 L531.98,467.65 L534.24,468.17 L536.51,468.36 L538.77,468.70 L541.03,468.36 L543.30,467.63 L545.56,468.49 L547.82,468.68 L550.09,468.66 L552.35,468.69 L554.61,468.41 L556.87,467.73 L559.14,468.75 L561.40,468.61 L563.66,467.70 L565.93,467.63 L568.19,467.66 L570.45,468.55 L572.72,468.42 L574.98,467.69 L577.24,468.26 L579.51,468.00 L581.77,468.47 L584.03,468.83 L586.30,468.44 L588.56,467.95 L590.82,467.90 L593.09,468.16 L595.35,468.29 L597.61,468.20 L599.88,468.32 L602.14,468.21 L604.40,467.85 L606.67,468.62 L608.93,468.14 L611.19,467.72 L613.45,467.83 L615.72,468.64 L617.98,467.69 L620.24,467.84 L622.51,468.66 L624.77,468.54 L627.03,468.62 L629.30,468.80 L631.56,467.67 L633.82,468.36 L636.09,467.80 L638.35,468.72 L640.61,468.85 L642.88,467.80 L645.14,467.90 L647.40,467.66 L649.67,468.03 L651.93,468.22 L654.19,467.93 L656.46,468.75 L658.72,468.21 L660.98,468.33 L663.25,468.69 L665.51,468.13 L667.77,468.47 L670.03,468.25 L672.30,468.41 L674.56,468.48 L676.82,468.43 L679.09,468.13 L681.35,467.67 L683.61,467.73 L685.88,467.82 L688.14,467.85 L690.40,468.52 L692.67,467.68 L694.93,468.54 L697.19,468.72 L699.46,468.26 L701.72,467.97 L703.98,468.45 L706.25,468.08 L708.51,468.52 L710.77,467.69 L713.04,468.31 L715.30,468.28 L717.56,468.22 L719.83,467.80 L722.09,467.66 L724.35,468.22 L726.61,468.33 L728.88,468.11 L731.14,468.78 L733.40,468.35 L735.67,467.83 L737.93,467.92 L740.19,468.79 L742.46,467.83 L744.72,468.40 L746.98,467.67 L749.25,468.42 L751.51,468.60 L753.77,468.20 L756.04,467.79 L758.30,468.34 L760.56,467.81 L762.83,468.00 L765.09,468.43 L767.35,468.50 L769.62,468.25 L771.88,468.38 L774.14,468.41" fill="none" stroke="#3479c6" stroke-width="1" stroke-linejoin="round" stroke-linecap="round"/>
<g fill="#fff" stroke="#3479c6" stroke-width="1.9"><circle cx="774.14" cy="468.41" r="2.4"/><circle cx="771.88" cy="468.38" r="2.4"/><circle cx="769.62" cy="468.25" r="2.4"/><circle cx="767.35" cy="468.50" r="2.4"/><circle cx="765.09" cy="468.43" r="2.4"/><circle cx="762.83" cy="468.00" r="2.4"/><circle cx="760.56" cy="467.81" r="2.4"/><circle cx="758.30" cy="468.34" r="2.4"/><circle cx="756.04" cy="467.79" r="2.4"/><circle cx="753.77" cy="468.20" r="2.4"/><circle cx="751.51" cy="468.60" r="2.4"/><circle cx="749.25" cy="468.42" r="2.4"/><circle cx="746.98" cy="467.67" r="2.4"/><circle cx="744.72" cy="468.40" r="2.4"/><circle cx="742.46" cy="467.83" r="2.4"/><circle cx="740.19" cy="468.79" r="2.4"/><circle cx="737.93" cy="467.92" r="2.4"/><circle cx="735.67" cy="467.83" r="2.4"/><circle cx="733.40" cy="468.35" r="2.4"/><circle cx="731.14" cy="468.78" r="2.4"/><circle cx="728.88" cy="468.11" r="2.4"/><circle cx="726.61" cy="468.33" r="2.4"/><circle cx="724.35" cy="468.22" r="2.4"/><circle cx="722.09" cy="467.66" r="2.4"/><circle cx="719.83" cy="467.80" r="2.4"/><circle cx="717.56" cy="468.22" r="2.4"/><circle cx="715.30" cy="468.28" r="2.4"/><circle cx="713.04" cy="468.31" r="2.4"/><circle cx="710.77" cy="467.69" r="2.4"/><circle cx="708.51" cy="468.52" r="2.4"/><circle cx="706.25" cy="468.08" r="2.4"/><circle cx="703.98" cy="468.45" r="2.4"/><circle cx="701.72" cy="467.97" r="2.4"/><circle cx="699.46" cy="468.26" r="2.4"/><circle cx="697.19" cy="468.72" r="2.4"/><circle cx="694.93" cy="468.54" r="2.4"/><circle cx="692.67" cy="467.68" r="2.4"/><circle cx="690.40" cy="468.52" r="2.4"/><circle cx="688.14" cy="467.85" r="2.4"/><circle cx="685.88" cy="467.82" r="2.4"/><circle cx="683.61" cy="467.73" r="2.4"/><circle cx="681.35" cy="467.67" r="2.4"/><circle cx="679.09" cy="468.13" r="2.4"/><circle cx="676.82" cy="468.43" r="2.4"/><circle cx="674.56" cy="468.48" r="2.4"/><circle cx="672.30" cy="468.41" r="2.4"/><circle cx="670.03" cy="468.25" r="2.4"/><circle cx="667.77" cy="468.47" r="2.4"/><circle cx="665.51" cy="468.13" r="2.4"/><circle cx="663.25" cy="468.69" r="2.4"/><circle cx="660.98" cy="468.33" r="2.4"/><circle cx="658.72" cy="468.21" r="2.4"/><circle cx="656.46" cy="468.75" r="2.4"/><circle cx="654.19" cy="467.93" r="2.4"/><circle cx="651.93" cy="468.22" r="2.4"/><circle cx="649.67" cy="468.03" r="2.4"/><circle cx="647.40" cy="467.66" r="2.4"/><circle cx="645.14" cy="467.90" r="2.4"/><circle cx="642.88" cy="467.80" r="2.4"/><circle cx="640.61" cy="468.85" r="2.4"/><circle cx="638.35" cy="468.72" r="2.4"/><circle cx="636.09" cy="467.80" r="2.4"/><circle cx="633.82" cy="468.36" r="2.4"/><circle cx="631.56" cy="467.67" r="2.4"/><circle cx="629.30" cy="468.80" r="2.4"/><circle cx="627.03" cy="468.62" r="2.4"/><circle cx="624.77" cy="468.54" r="2.4"/><circle cx="622.51" cy="468.66" r="2.4"/><circle cx="620.24" cy="467.84" r="2.4"/><circle cx="617.98" cy="467.69" r="2.4"/><circle cx="615.72" cy="468.64" r="2.4"/><circle cx="613.45" cy="467.83" r="2.4"/><circle cx="611.19" cy="467.72" r="2.4"/><circle cx="608.93" cy="468.14" r="2.4"/><circle cx="606.67" cy="468.62" r="2.4"/><circle cx="604.40" cy="467.85" r="2.4"/><circle cx="602.14" cy="468.21" r="2.4"/><circle cx="599.88" cy="468.32" r="2.4"/><circle cx="597.61" cy="468.20" r="2.4"/><circle cx="595.35" cy="468.29" r="2.4"/><circle cx="593.09" cy="468.16" r="2.4"/><circle cx="590.82" cy="467.90" r="2.4"/><circle cx="588.56" cy="467.95" r="2.4"/><circle cx="586.30" cy="468.44" r="2.4"/><circle cx="584.03" cy="468.83" r="2.4"/><circle cx="581.77" cy="468.47" r="2.4"/><circle cx="579.51" cy="468.00" r="2.4"/><circle cx="577.24" cy="468.26" r="2.4"/><circle cx="574.98" cy="467.69" r="2.4"/><circle cx="572.72" cy="468.42" r="2.4"/><circle cx="570.45" cy="468.55" r="2.4"/><circle cx="568.19" cy="467.66" r="2.4"/><circle cx="565.93" cy="467.63" r="2.4"/><circle cx="563.66" cy="467.70" r="2.4"/><circle cx="561.40" cy="468.61" r="2.4"/><circle cx="559.14" cy="468.75" r="2.4"/><circle cx="556.87" cy="467.73" r="2.4"/><circle cx="554.61" cy="468.41" r="2.4"/><circle cx="552.35" cy="468.69" r="2.4"/><circle cx="550.09" cy="468.66" r="2.4"/><circle cx="547.82" cy="468.68" r="2.4"/><circle cx="545.56" cy="468.49" r="2.4"/><circle cx="543.30" cy="467.63" r="2.4"/><circle cx="541.03" cy="468.36" r="2.4"/><circle cx="538.77" cy="468.70" r="2.4"/><circle cx="536.51" cy="468.36" r="2.4"/><circle cx="534.24" cy="468.17" r="2.4"/><circle cx="531.98" cy="467.65" r="2.4"/><circle cx="529.72" cy="468.76" r="2.4"/><circle cx="527.45" cy="467.75" r="2.4"/><circle cx="525.19" cy="467.81" r="2.4"/><circle cx="522.93" cy="468.58" r="2.4"/><circle cx="520.66" cy="468.59" r="2.4"/><circle cx="518.40" cy="467.88" r="2.4"/><circle cx="516.14" cy="468.73" r="2.4"/><circle cx="513.87" cy="468.62" r="2.4"/><circle cx="511.61" cy="468.00" r="2.4"/><circle cx="509.35" cy="467.96" r="2.4"/><circle cx="507.08" cy="467.57" r="2.4"/><circle cx="504.82" cy="468.56" r="2.4"/><circle cx="502.56" cy="467.67" r="2.4"/><circle cx="500.29" cy="468.59" r="2.4"/><circle cx="498.03" cy="467.59" r="2.4"/><circle cx="495.77" cy="468.46" r="2.4"/><circle cx="493.51" cy="468.69" r="2.4"/><circle cx="491.24" cy="468.07" r="2.4"/><circle cx="488.98" cy="468.40" r="2.4"/><circle cx="486.72" cy="468.13" r="2.4"/><circle cx="484.45" cy="468.39" r="2.4"/><circle cx="482.19" cy="468.62" r="2.4"/><circle cx="479.93" cy="467.52" r="2.4"/><circle cx="477.66" cy="468.34" r="2.4"/><circle cx="475.40" cy="468.66" r="2.4"/><circle cx="473.14" cy="467.66" r="2.4"/><circle cx="470.87" cy="467.88" r="2.4"/><circle cx="468.61" cy="467.61" r="2.4"/><circle cx="466.35" cy="467.71" r="2.4"/><circle cx="464.08" cy="467.96" r="2.4"/><circle cx="461.82" cy="468.49" r="2.4"/><circle cx="459.56" cy="468.32" r="2.4"/><circle cx="457.29" cy="468.27" r="2.4"/><circle cx="455.03" cy="468.43" r="2.4"/><circle cx="452.77" cy="467.31" r="2.4"/><circle cx="450.50" cy="468.18" r="2.4"/><circle cx="448.24" cy="468.30" r="2.4"/><circle cx="445.98" cy="468.09" r="2.4"/><circle cx="443.71" cy="467.93" r="2.4"/><circle cx="441.45" cy="467.99" r="2.4"/><circle cx="439.19" cy="467.20" r="2.4"/><circle cx="436.93" cy="467.16" r="2.4"/><circle cx="434.66" cy="467.96" r="2.4"/><circle cx="432.40" cy="467.86" r="2.4"/><circle cx="430.14" cy="467.20" r="2.4"/><circle cx="427.87" cy="467.70" r="2.4"/><circle cx="425.61" cy="467.91" r="2.4"/><circle cx="423.35" cy="466.96" r="2.4"/><circle cx="421.08" cy="467.80" r="2.4"/><circle cx="418.82" cy="467.20" r="2.4"/><circle cx="416.56" cy="466.76" r="2.4"/><circle cx="414.29" cy="466.78" r="2.4"/><circle cx="412.03" cy="467.18" r="2.4"/><circle cx="409.77" cy="467.29" r="2.4"/><circle cx="407.50" cy="466.86" r="2.4"/><circle cx="405.24" cy="467.48" r="2.4"/><circle cx="402.98" cy="466.41" r="2.4"/><circle cx="400.71" cy="466.57" r="2.4"/><circle cx="398.45" cy="465.21" r="2.4"/></g>
<path d="M398.45,551.73 L400.71,561.34 L402.98,561.40 L405.24,561.82 L407.50,562.17 L409.77,562.72 L412.03,563.13 L414.29,562.89 L416.56,563.03 L418.82,563.44 L421.08,563.50 L423.35,563.57 L425.61,563.89 L427.87,563.69 L430.14,563.88 L432.40,564.08 L434.66,564.34 L436.93,564.11 L439.19,564.33 L441.45,564.11 L443.71,564.53 L445.98,564.43 L448.24,564.61 L450.50,564.51 L452.77,564.43 L455.03,564.78 L457.29,564.85 L459.56,564.59 L461.82,564.81 L464.08,564.63 L466.35,564.88 L468.61,564.95 L470.87,564.68 L473.14,564.45 L475.40,564.50 L477.66,564.76 L479.93,564.86 L482.19,565.10 L484.45,564.98 L486.72,564.97 L488.98,564.57 L491.24,565.14 L493.51,564.60 L495.77,564.93 L498.03,564.98 L500.29,565.11 L502.56,564.66 L504.82,565.19 L507.08,564.95 L509.35,565.01 L511.61,565.23 L513.87,565.23 L516.14,564.74 L518.40,564.88 L520.66,564.94 L522.93,564.84 L525.19,565.39 L527.45,565.00 L529.72,564.99 L531.98,565.36 L534.24,565.22 L536.51,564.88 L538.77,565.33 L541.03,565.06 L543.30,565.47 L545.56,565.15 L547.82,565.43 L550.09,565.29 L552.35,565.39 L554.61,565.08 L556.87,565.18 L559.14,565.35 L561.40,565.24 L563.66,565.43 L565.93,565.20 L568.19,565.58 L570.45,565.40 L572.72,565.39 L574.98,565.53 L577.24,565.78 L579.51,565.71 L581.77,565.41 L584.03,565.71 L586.30,565.36 L588.56,565.55 L590.82,565.26 L593.09,565.35 L595.35,565.44 L597.61,565.70 L599.88,565.93 L602.14,565.60 L604.40,565.49 L606.67,565.39 L608.93,565.89 L611.19,565.93 L613.45,565.39 L615.72,565.57 L617.98,565.76 L620.24,565.60 L622.51,566.01 L624.77,565.76 L627.03,565.69 L629.30,565.75 L631.56,566.06 L633.82,566.10 L636.09,565.78 L638.35,565.62 L640.61,566.14 L642.88,566.24 L645.14,566.21 L647.40,565.75 L649.67,566.03 L651.93,566.00 L654.19,565.66 L656.46,565.93 L658.72,566.18 L660.98,565.90 L663.25,566.38 L665.51,566.21 L667.77,565.94 L670.03,566.31 L672.30,566.42 L674.56,566.11 L676.82,566.25 L679.09,565.84 L681.35,566.44 L683.61,565.98 L685.88,566.27 L688.14,566.01 L690.40,566.27 L692.67,566.13 L694.93,566.37 L697.19,566.46 L699.46,566.32 L701.72,566.10 L703.98,566.42 L706.25,566.51 L708.51,566.41 L710.77,566.63 L713.04,566.50 L715.30,566.35 L717.56,566.38 L719.83,566.36 L722.09,566.58 L724.35,566.77 L726.61,566.79 L728.88,566.59 L731.14,566.70 L733.40,566.47 L735.67,566.69 L737.93,566.37 L740.19,566.49 L742.46,566.47 L744.72,566.43 L746.98,566.59 L749.25,566.67 L751.51,566.76 L753.77,566.94 L756.04,566.47 L758.30,566.68 L760.56,566.96 L762.83,566.42 L765.09,566.67 L767.35,566.66 L769.62,566.80 L771.88,567.02 L774.14,566.45" fill="none" stroke="#f3a56a" stroke-width="1" stroke-linejoin="round" stroke-linecap="round"/>
<g fill="#fff" stroke="#f3a56a" stroke-width="1.9"><circle cx="774.14" cy="566.45" r="2.4"/><circle cx="771.88" cy="567.02" r="2.4"/><circle cx="769.62" cy="566.80" r="2.4"/><circle cx="767.35" cy="566.66" r="2.4"/><circle cx="765.09" cy="566.67" r="2.4"/><circle cx="762.83" cy="566.42" r="2.4"/><circle cx="760.56" cy="566.96" r="2.4"/><circle cx="758.30" cy="566.68" r="2.4"/><circle cx="756.04" cy="566.47" r="2.4"/><circle cx="753.77" cy="566.94" r="2.4"/><circle cx="751.51" cy="566.76" r="2.4"/><circle cx="749.25" cy="566.67" r="2.4"/><circle cx="746.98" cy="566.59" r="2.4"/><circle cx="744.72" cy="566.43" r="2.4"/><circle cx="742.46" cy="566.47" r="2.4"/><circle cx="740.19" cy="566.49" r="2.4"/><circle cx="737.93" cy="566.37" r="2.4"/><circle cx="735.67" cy="566.69" r="2.4"/><circle cx="733.40" cy="566.47" r="2.4"/><circle cx="731.14" cy="566.70" r="2.4"/><circle cx="728.88" cy="566.59" r="2.4"/><circle cx="726.61" cy="566.79" r="2.4"/><circle cx="724.35" cy="566.77" r="2.4"/><circle cx="722.09" cy="566.58" r="2.4"/><circle cx="719.83" cy="566.36" r="2.4"/><circle cx="717.56" cy="566.38" r="2.4"/><circle cx="715.30" cy="566.35" r="2.4"/><circle cx="713.04" cy="566.50" r="2.4"/><circle cx="710.77" cy="566.63" r="2.4"/><circle cx="708.51" cy="566.41" r="2.4"/><circle cx="706.25" cy="566.51" r="2.4"/><circle cx="703.98" cy="566.42" r="2.4"/><circle cx="701.72" cy="566.10" r="2.4"/><circle cx="699.46" cy="566.32" r="2.4"/><circle cx="697.19" cy="566.46" r="2.4"/><circle cx="694.93" cy="566.37" r="2.4"/><circle cx="692.67" cy="566.13" r="2.4"/><circle cx="690.40" cy="566.27" r="2.4"/><circle cx="688.14" cy="566.01" r="2.4"/><circle cx="685.88" cy="566.27" r="2.4"/><circle cx="683.61" cy="565.98" r="2.4"/><circle cx="681.35" cy="566.44" r="2.4"/><circle cx="679.09" cy="565.84" r="2.4"/><circle cx="676.82" cy="566.25" r="2.4"/><circle cx="674.56" cy="566.11" r="2.4"/><circle cx="672.30" cy="566.42" r="2.4"/><circle cx="670.03" cy="566.31" r="2.4"/><circle cx="667.77" cy="565.94" r="2.4"/><circle cx="665.51" cy="566.21" r="2.4"/><circle cx="663.25" cy="566.38" r="2.4"/><circle cx="660.98" cy="565.90" r="2.4"/><circle cx="658.72" cy="566.18" r="2.4"/><circle cx="656.46" cy="565.93" r="2.4"/><circle cx="654.19" cy="565.66" r="2.4"/><circle cx="651.93" cy="566.00" r="2.4"/><circle cx="649.67" cy="566.03" r="2.4"/><circle cx="647.40" cy="565.75" r="2.4"/><circle cx="645.14" cy="566.21" r="2.4"/><circle cx="642.88" cy="566.24" r="2.4"/><circle cx="640.61" cy="566.14" r="2.4"/><circle cx="638.35" cy="565.62" r="2.4"/><circle cx="636.09" cy="565.78" r="2.4"/><circle cx="633.82" cy="566.10" r="2.4"/><circle cx="631.56" cy="566.06" r="2.4"/><circle cx="629.30" cy="565.75" r="2.4"/><circle cx="627.03" cy="565.69" r="2.4"/><circle cx="624.77" cy="565.76" r="2.4"/><circle cx="622.51" cy="566.01" r="2.4"/><circle cx="620.24" cy="565.60" r="2.4"/><circle cx="617.98" cy="565.76" r="2.4"/><circle cx="615.72" cy="565.57" r="2.4"/><circle cx="613.45" cy="565.39" r="2.4"/><circle cx="611.19" cy="565.93" r="2.4"/><circle cx="608.93" cy="565.89" r="2.4"/><circle cx="606.67" cy="565.39" r="2.4"/><circle cx="604.40" cy="565.49" r="2.4"/><circle cx="602.14" cy="565.60" r="2.4"/><circle cx="599.88" cy="565.93" r="2.4"/><circle cx="597.61" cy="565.70" r="2.4"/><circle cx="595.35" cy="565.44" r="2.4"/><circle cx="593.09" cy="565.35" r="2.4"/><circle cx="590.82" cy="565.26" r="2.4"/><circle cx="588.56" cy="565.55" r="2.4"/><circle cx="586.30" cy="565.36" r="2.4"/><circle cx="584.03" cy="565.71" r="2.4"/><circle cx="581.77" cy="565.41" r="2.4"/><circle cx="579.51" cy="565.71" r="2.4"/><circle cx="577.24" cy="565.78" r="2.4"/><circle cx="574.98" cy="565.53" r="2.4"/><circle cx="572.72" cy="565.39" r="2.4"/><circle cx="570.45" cy="565.40" r="2.4"/><circle cx="568.19" cy="565.58" r="2.4"/><circle cx="565.93" cy="565.20" r="2.4"/><circle cx="563.66" cy="565.43" r="2.4"/><circle cx="561.40" cy="565.24" r="2.4"/><circle cx="559.14" cy="565.35" r="2.4"/><circle cx="556.87" cy="565.18" r="2.4"/><circle cx="554.61" cy="565.08" r="2.4"/><circle cx="552.35" cy="565.39" r="2.4"/><circle cx="550.09" cy="565.29" r="2.4"/><circle cx="547.82" cy="565.43" r="2.4"/><circle cx="545.56" cy="565.15" r="2.4"/><circle cx="543.30" cy="565.47" r="2.4"/><circle cx="541.03" cy="565.06" r="2.4"/><circle cx="538.77" cy="565.33" r="2.4"/><circle cx="536.51" cy="564.88" r="2.4"/><circle cx="534.24" cy="565.22" r="2.4"/><circle cx="531.98" cy="565.36" r="2.4"/><circle cx="529.72" cy="564.99" r="2.4"/><circle cx="527.45" cy="565.00" r="2.4"/><circle cx="525.19" cy="565.39" r="2.4"/><circle cx="522.93" cy="564.84" r="2.4"/><circle cx="520.66" cy="564.94" r="2.4"/><circle cx="518.40" cy="564.88" r="2.4"/><circle cx="516.14" cy="564.74" r="2.4"/><circle cx="513.87" cy="565.23" r="2.4"/><circle cx="511.61" cy="565.23" r="2.4"/><circle cx="509.35" cy="565.01" r="2.4"/><circle cx="507.08" cy="564.95" r="2.4"/><circle cx="504.82" cy="565.19" r="2.4"/><circle cx="502.56" cy="564.66" r="2.4"/><circle cx="500.29" cy="565.11" r="2.4"/><circle cx="498.03" cy="564.98" r="2.4"/><circle cx="495.77" cy="564.93" r="2.4"/><circle cx="493.51" cy="564.60" r="2.4"/><circle cx="491.24" cy="565.14" r="2.4"/><circle cx="488.98" cy="564.57" r="2.4"/><circle cx="486.72" cy="564.97" r="2.4"/><circle cx="484.45" cy="564.98" r="2.4"/><circle cx="482.19" cy="565.10" r="2.4"/><circle cx="479.93" cy="564.86" r="2.4"/><circle cx="477.66" cy="564.76" r="2.4"/><circle cx="475.40" cy="564.50" r="2.4"/><circle cx="473.14" cy="564.45" r="2.4"/><circle cx="470.87" cy="564.68" r="2.4"/><circle cx="468.61" cy="564.95" r="2.4"/><circle cx="466.35" cy="564.88" r="2.4"/><circle cx="464.08" cy="564.63" r="2.4"/><circle cx="461.82" cy="564.81" r="2.4"/><circle cx="459.56" cy="564.59" r="2.4"/><circle cx="457.29" cy="564.85" r="2.4"/><circle cx="455.03" cy="564.78" r="2.4"/><circle cx="452.77" cy="564.43" r="2.4"/><circle cx="450.50" cy="564.51" r="2.4"/><circle cx="448.24" cy="564.61" r="2.4"/><circle cx="445.98" cy="564.43" r="2.4"/><circle cx="443.71" cy="564.53" r="2.4"/><circle cx="441.45" cy="564.11" r="2.4"/><circle cx="439.19" cy="564.33" r="2.4"/><circle cx="436.93" cy="564.11" r="2.4"/><circle cx="434.66" cy="564.34" r="2.4"/><circle cx="432.40" cy="564.08" r="2.4"/><circle cx="430.14" cy="563.88" r="2.4"/><circle cx="427.87" cy="563.69" r="2.4"/><circle cx="425.61" cy="563.89" r="2.4"/><circle cx="423.35" cy="563.57" r="2.4"/><circle cx="421.08" cy="563.50" r="2.4"/><circle cx="418.82" cy="563.44" r="2.4"/><circle cx="416.56" cy="563.03" r="2.4"/><circle cx="414.29" cy="562.89" r="2.4"/><circle cx="412.03" cy="563.13" r="2.4"/><circle cx="409.77" cy="562.72" r="2.4"/><circle cx="407.50" cy="562.17" r="2.4"/><circle cx="405.24" cy="561.82" r="2.4"/><circle cx="402.98" cy="561.40" r="2.4"/><circle cx="400.71" cy="561.34" r="2.4"/><circle cx="398.45" cy="551.73" r="2.4"/></g>
<path d="M398.45,537.14 L400.71,537.97 L402.98,538.81 L405.24,539.65 L407.50,540.77 L409.77,540.71 L412.03,540.58 L414.29,540.94 L416.56,541.01 L418.82,540.89 L421.08,540.95 L423.35,541.16 L425.61,540.86 L427.87,540.64 L430.14,540.94 L432.40,540.84 L434.66,540.81 L436.93,540.85 L439.19,540.83 L441.45,541.19 L443.71,541.06 L445.98,541.48 L448.24,541.01 L450.50,541.38 L452.77,541.35 L455.03,541.11 L457.29,541.55 L459.56,541.66 L461.82,541.27 L464.08,541.46 L466.35,541.84 L468.61,541.92 L470.87,541.74 L473.14,542.00 L475.40,541.49 L477.66,541.96 L479.93,541.94 L482.19,541.90 L484.45,541.86 L486.72,541.95 L488.98,541.85 L491.24,541.87 L493.51,542.06 L495.77,542.32 L498.03,541.77 L500.29,542.00 L502.56,542.44 L504.82,542.24 L507.08,542.07 L509.35,541.95 L511.61,542.61 L513.87,542.68 L516.14,542.40 L518.40,542.48 L520.66,542.20 L522.93,542.28 L525.19,542.65 L527.45,542.63 L529.72,542.56 L531.98,542.40 L534.24,542.89 L536.51,542.80 L538.77,543.04 L541.03,542.71 L543.30,543.16 L545.56,542.59 L547.82,542.90 L550.09,542.91 L552.35,543.27 L554.61,543.21 L556.87,543.09 L559.14,542.87 L561.40,543.12 L563.66,543.33 L565.93,542.90 L568.19,543.15 L570.45,543.28 L572.72,543.53 L574.98,543.50 L577.24,543.14 L579.51,543.69 L581.77,543.46 L584.03,543.44 L586.30,543.66 L588.56,543.42 L590.82,543.36 L593.09,543.43 L595.35,543.55 L597.61,543.95 L599.88,544.08 L602.14,543.87 L604.40,543.99 L606.67,544.10 L608.93,543.69 L611.19,544.16 L613.45,543.79 L615.72,543.75 L617.98,544.34 L620.24,543.85 L622.51,544.23 L624.77,544.39 L627.03,544.45 L629.30,544.58 L631.56,544.31 L633.82,544.43 L636.09,544.15 L638.35,544.20 L640.61,544.76 L642.88,544.57 L645.14,544.61 L647.40,544.79 L649.67,544.78 L651.93,544.81 L654.19,544.56 L656.46,544.83 L658.72,545.02 L660.98,544.99 L663.25,544.88 L665.51,544.83 L667.77,545.08 L670.03,544.82 L672.30,545.18 L674.56,544.91 L676.82,544.99 L679.09,545.32 L681.35,544.97 L683.61,545.25 L685.88,545.19 L688.14,545.19 L690.40,545.20 L692.67,545.37 L694.93,545.66 L697.19,545.21 L699.46,545.20 L701.72,545.49 L703.98,545.46 L706.25,545.71 L708.51,545.33 L710.77,545.51 L713.04,545.85 L715.30,545.49 L717.56,545.42 L719.83,545.88 L722.09,545.49 L724.35,545.87 L726.61,546.11 L728.88,545.79 L731.14,546.08 L733.40,545.85 L735.67,545.99 L737.93,546.34 L740.19,546.10 L742.46,545.92 L744.72,546.21 L746.98,546.21 L749.25,546.03 L751.51,546.34 L753.77,546.35 L756.04,546.33 L758.30,546.20 L760.56,546.66 L762.83,546.77 L765.09,546.36 L767.35,546.54 L769.62,546.74 L771.88,546.38 L774.14,546.43" fill="none" stroke="#3479c6" stroke-width="1" stroke-linejoin="round" stroke-linecap="round"/>
<g fill="#fff" stroke="#3479c6" stroke-width="1.9"><circle cx="774.14" cy="546.43" r="2.4"/><circle cx="771.88" cy="546.38" r="2.4"/><circle cx="769.62" cy="546.74" r="2.4"/><circle cx="767.35" cy="546.54" r="2.4"/><circle cx="765.09" cy="546.36" r="2.4"/><circle cx="762.83" cy="546.77" r="2.4"/><circle cx="760.56" cy="546.66" r="2.4"/><circle cx="758.30" cy="546.20" r="2.4"/><circle cx="756.04" cy="546.33" r="2.4"/><circle cx="753.77" cy="546.35" r="2.4"/><circle cx="751.51" cy="546.34" r="2.4"/><circle cx="749.25" cy="546.03" r="2.4"/><circle cx="746.98" cy="546.21" r="2.4"/><circle cx="744.72" cy="546.21" r="2.4"/><circle cx="742.46" cy="545.92" r="2.4"/><circle cx="740.19" cy="546.10" r="2.4"/><circle cx="737.93" cy="546.34" r="2.4"/><circle cx="735.67" cy="545.99" r="2.4"/><circle cx="733.40" cy="545.85" r="2.4"/><circle cx="731.14" cy="546.08" r="2.4"/><circle cx="728.88" cy="545.79" r="2.4"/><circle cx="726.61" cy="546.11" r="2.4"/><circle cx="724.35" cy="545.87" r="2.4"/><circle cx="722.09" cy="545.49" r="2.4"/><circle cx="719.83" cy="545.88" r="2.4"/><circle cx="717.56" cy="545.42" r="2.4"/><circle cx="715.30" cy="545.49" r="2.4"/><circle cx="713.04" cy="545.85" r="2.4"/><circle cx="710.77" cy="545.51" r="2.4"/><circle cx="708.51" cy="545.33" r="2.4"/><circle cx="706.25" cy="545.71" r="2.4"/><circle cx="703.98" cy="545.46" r="2.4"/><circle cx="701.72" cy="545.49" r="2.4"/><circle cx="699.46" cy="545.20" r="2.4"/><circle cx="697.19" cy="545.21" r="2.4"/><circle cx="694.93" cy="545.66" r="2.4"/><circle cx="692.67" cy="545.37" r="2.4"/><circle cx="690.40" cy="545.20" r="2.4"/><circle cx="688.14" cy="545.19" r="2.4"/><circle cx="685.88" cy="545.19" r="2.4"/><circle cx="683.61" cy="545.25" r="2.4"/><circle cx="681.35" cy="544.97" r="2.4"/><circle cx="679.09" cy="545.32" r="2.4"/><circle cx="676.82" cy="544.99" r="2.4"/><circle cx="674.56" cy="544.91" r="2.4"/><circle cx="672.30" cy="545.18" r="2.4"/><circle cx="670.03" cy="544.82" r="2.4"/><circle cx="667.77" cy="545.08" r="2.4"/><circle cx="665.51" cy="544.83" r="2.4"/><circle cx="663.25" cy="544.88" r="2.4"/><circle cx="660.98" cy="544.99" r="2.4"/><circle cx="658.72" cy="545.02" r="2.4"/><circle cx="656.46" cy="544.83" r="2.4"/><circle cx="654.19" cy="544.56" r="2.4"/><circle cx="651.93" cy="544.81" r="2.4"/><circle cx="649.67" cy="544.78" r="2.4"/><circle cx="647.40" cy="544.79" r="2.4"/><circle cx="645.14" cy="544.61" r="2.4"/><circle cx="642.88" cy="544.57" r="2.4"/><circle cx="640.61" cy="544.76" r="2.4"/><circle cx="638.35" cy="544.20" r="2.4"/><circle cx="636.09" cy="544.15" r="2.4"/><circle cx="633.82" cy="544.43" r="2.4"/><circle cx="631.56" cy="544.31" r="2.4"/><circle cx="629.30" cy="544.58" r="2.4"/><circle cx="627.03" cy="544.45" r="2.4"/><circle cx="624.77" cy="544.39" r="2.4"/><circle cx="622.51" cy="544.23" r="2.4"/><circle cx="620.24" cy="543.85" r="2.4"/><circle cx="617.98" cy="544.34" r="2.4"/><circle cx="615.72" cy="543.75" r="2.4"/><circle cx="613.45" cy="543.79" r="2.4"/><circle cx="611.19" cy="544.16" r="2.4"/><circle cx="608.93" cy="543.69" r="2.4"/><circle cx="606.67" cy="544.10" r="2.4"/><circle cx="604.40" cy="543.99" r="2.4"/><circle cx="602.14" cy="543.87" r="2.4"/><circle cx="599.88" cy="544.08" r="2.4"/><circle cx="597.61" cy="543.95" r="2.4"/><circle cx="595.35" cy="543.55" r="2.4"/><circle cx="593.09" cy="543.43" r="2.4"/><circle cx="590.82" cy="543.36" r="2.4"/><circle cx="588.56" cy="543.42" r="2.4"/><circle cx="586.30" cy="543.66" r="2.4"/><circle cx="584.03" cy="543.44" r="2.4"/><circle cx="581.77" cy="543.46" r="2.4"/><circle cx="579.51" cy="543.69" r="2.4"/><circle cx="577.24" cy="543.14" r="2.4"/><circle cx="574.98" cy="543.50" r="2.4"/><circle cx="572.72" cy="543.53" r="2.4"/><circle cx="570.45" cy="543.28" r="2.4"/><circle cx="568.19" cy="543.15" r="2.4"/><circle cx="565.93" cy="542.90" r="2.4"/><circle cx="563.66" cy="543.33" r="2.4"/><circle cx="561.40" cy="543.12" r="2.4"/><circle cx="559.14" cy="542.87" r="2.4"/><circle cx="556.87" cy="543.09" r="2.4"/><circle cx="554.61" cy="543.21" r="2.4"/><circle cx="552.35" cy="543.27" r="2.4"/><circle cx="550.09" cy="542.91" r="2.4"/><circle cx="547.82" cy="542.90" r="2.4"/><circle cx="545.56" cy="542.59" r="2.4"/><circle cx="543.30" cy="543.16" r="2.4"/><circle cx="541.03" cy="542.71" r="2.4"/><circle cx="538.77" cy="543.04" r="2.4"/><circle cx="536.51" cy="542.80" r="2.4"/><circle cx="534.24" cy="542.89" r="2.4"/><circle cx="531.98" cy="542.40" r="2.4"/><circle cx="529.72" cy="542.56" r="2.4"/><circle cx="527.45" cy="542.63" r="2.4"/><circle cx="525.19" cy="542.65" r="2.4"/><circle cx="522.93" cy="542.28" r="2.4"/><circle cx="520.66" cy="542.20" r="2.4"/><circle cx="518.40" cy="542.48" r="2.4"/><circle cx="516.14" cy="542.40" r="2.4"/><circle cx="513.87" cy="542.68" r="2.4"/><circle cx="511.61" cy="542.61" r="2.4"/><circle cx="509.35" cy="541.95" r="2.4"/><circle cx="507.08" cy="542.07" r="2.4"/><circle cx="504.82" cy="542.24" r="2.4"/><circle cx="502.56" cy="542.44" r="2.4"/><circle cx="500.29" cy="542.00" r="2.4"/><circle cx="498.03" cy="541.77" r="2.4"/><circle cx="495.77" cy="542.32" r="2.4"/><circle cx="493.51" cy="542.06" r="2.4"/><circle cx="491.24" cy="541.87" r="2.4"/><circle cx="488.98" cy="541.85" r="2.4"/><circle cx="486.72" cy="541.95" r="2.4"/><circle cx="484.45" cy="541.86" r="2.4"/><circle cx="482.19" cy="541.90" r="2.4"/><circle cx="479.93" cy="541.94" r="2.4"/><circle cx="477.66" cy="541.96" r="2.4"/><circle cx="475.40" cy="541.49" r="2.4"/><circle cx="473.14" cy="542.00" r="2.4"/><circle cx="470.87" cy="541.74" r="2.4"/><circle cx="468.61" cy="541.92" r="2.4"/><circle cx="466.35" cy="541.84" r="2.4"/><circle cx="464.08" cy="541.46" r="2.4"/><circle cx="461.82" cy="541.27" r="2.4"/><circle cx="459.56" cy="541.66" r="2.4"/><circle cx="457.29" cy="541.55" r="2.4"/><circle cx="455.03" cy="541.11" r="2.4"/><circle cx="452.77" cy="541.35" r="2.4"/><circle cx="450.50" cy="541.38" r="2.4"/><circle cx="448.24" cy="541.01" r="2.4"/><circle cx="445.98" cy="541.48" r="2.4"/><circle cx="443.71" cy="541.06" r="2.4"/><circle cx="441.45" cy="541.19" r="2.4"/><circle cx="439.19" cy="540.83" r="2.4"/><circle cx="436.93" cy="540.85" r="2.4"/><circle cx="434.66" cy="540.81" r="2.4"/><circle cx="432.40" cy="540.84" r="2.4"/><circle cx="430.14" cy="540.94" r="2.4"/><circle cx="427.87" cy="540.64" r="2.4"/><circle cx="425.61" cy="540.86" r="2.4"/><circle cx="423.35" cy="541.16" r="2.4"/><circle cx="421.08" cy="540.95" r="2.4"/><circle cx="418.82" cy="540.89" r="2.4"/><circle cx="416.56" cy="541.01" r="2.4"/><circle cx="414.29" cy="540.94" r="2.4"/><circle cx="412.03" cy="540.58" r="2.4"/><circle cx="409.77" cy="540.71" r="2.4"/><circle cx="407.50" cy="540.77" r="2.4"/><circle cx="405.24" cy="539.65" r="2.4"/><circle cx="402.98" cy="538.81" r="2.4"/><circle cx="400.71" cy="537.97" r="2.4"/><circle cx="398.45" cy="537.14" r="2.4"/></g>
<line x1="464.10" y1="497.50" x2="494.60" y2="497.50" stroke="#3479c6" stroke-width="2.2"/>
<circle cx="478.9" cy="497.5" r="2.5" fill="#fff" stroke="#3479c6" stroke-width="2.5"/>
<line x1="464.10" y1="513.20" x2="494.60" y2="513.20" stroke="#f3a56a" stroke-width="2.2"/>
<circle cx="478.9" cy="513.2" r="2.5" fill="#fff" stroke="#f3a56a" stroke-width="2.5"/>
<text x="497.70" y="501.81" font-size="12.7" text-anchor="start" font-weight="normal" fill="#262626" stroke="#262626" stroke-width="0.3">IWQ-LTO</text>
<text x="497.70" y="517.21" font-size="12.7" text-anchor="start" font-weight="normal" fill="#262626" stroke="#262626" stroke-width="0.3">Pristine LTO</text>
<path d="M473.50,531.00 L473.50,584.00 L423.00,584.00" fill="none" stroke="#6fbf5e" stroke-width="2.8" stroke-linejoin="round" stroke-linecap="round" stroke-linecap="butt" stroke-linejoin="miter"/>
<polygon points="411.0,584.0 426.5,579.0 422.5,584.0 426.5,589.0" fill="#6fbf5e"/>
<path d="M684.90,465.30 L684.90,479.80 L749.80,479.80" fill="none" stroke="#6fbf5e" stroke-width="2.8" stroke-linejoin="round" stroke-linecap="round" stroke-linecap="butt" stroke-linejoin="miter"/>
<polygon points="761.8,479.8 746.3,474.8 750.3,479.8 746.3,484.8" fill="#6fbf5e"/>
<path d="M146.73,300.88 L188.66,332.24 L230.59,351.19 L314.45,370.48 L524.10,392.44" fill="none" stroke="#8a1c1c" stroke-width="2.4" stroke-linejoin="round" stroke-linecap="round" stroke-linecap="butt"/>
<polygon points="146.73,295.68 151.62,303.74 141.84,303.74" fill="#fff" stroke="#8a1c1c" stroke-width="2.3" stroke-linejoin="miter"/><polygon points="188.66,327.04 193.55,335.10 183.77,335.10" fill="#fff" stroke="#8a1c1c" stroke-width="2.3" stroke-linejoin="miter"/><polygon points="230.59,345.99 235.48,354.05 225.70,354.05" fill="#fff" stroke="#8a1c1c" stroke-width="2.3" stroke-linejoin="miter"/><polygon points="314.45,365.28 319.34,373.34 309.56,373.34" fill="#fff" stroke="#8a1c1c" stroke-width="2.3" stroke-linejoin="miter"/><polygon points="524.10,387.24 528.99,395.30 519.21,395.30" fill="#fff" stroke="#8a1c1c" stroke-width="2.3" stroke-linejoin="miter"/>
<path d="M113.19,317.65 L146.73,336.94 L314.45,351.69 L524.10,383.05" fill="none" stroke="#fa4848" stroke-width="2.3" stroke-linejoin="round" stroke-linecap="round" stroke-linecap="butt"/>
<polygon points="113.19,322.85 118.07,314.79 108.30,314.79" fill="#fff" stroke="#fa4848" stroke-width="2.3" stroke-linejoin="miter"/><polygon points="146.73,342.14 151.62,334.08 141.84,334.08" fill="#fff" stroke="#fa4848" stroke-width="2.3" stroke-linejoin="miter"/><polygon points="314.45,356.89 319.34,348.83 309.56,348.83" fill="#fff" stroke="#fa4848" stroke-width="2.3" stroke-linejoin="miter"/><polygon points="524.10,388.25 528.99,380.19 519.21,380.19" fill="#fff" stroke="#fa4848" stroke-width="2.3" stroke-linejoin="miter"/>
<path d="M125.77,315.97 L146.73,317.65 L314.45,341.46 L524.10,369.64" fill="none" stroke="#ff7d12" stroke-width="3.0" stroke-linejoin="round" stroke-linecap="round" stroke-linecap="butt"/>
<polygon points="130.97,315.97 122.91,311.09 122.91,320.86" fill="#fff" stroke="#ff7d12" stroke-width="2.3" stroke-linejoin="miter"/><polygon points="151.93,317.65 143.87,312.76 143.87,322.54" fill="#fff" stroke="#ff7d12" stroke-width="2.3" stroke-linejoin="miter"/><polygon points="319.65,341.46 311.59,336.58 311.59,346.35" fill="#fff" stroke="#ff7d12" stroke-width="2.3" stroke-linejoin="miter"/><polygon points="529.30,369.64 521.24,364.75 521.24,374.52" fill="#fff" stroke="#ff7d12" stroke-width="2.3" stroke-linejoin="miter"/>
<path d="M125.77,308.09 L188.66,319.66 L314.45,348.34 L524.10,358.40" fill="none" stroke="#9ee14a" stroke-width="2.8" stroke-linejoin="round" stroke-linecap="round" stroke-linecap="butt"/>
<polygon points="120.56,308.09 128.62,303.20 128.62,312.98" fill="#fff" stroke="#9ee14a" stroke-width="2.3" stroke-linejoin="miter"/><polygon points="183.46,319.66 191.52,314.77 191.52,324.55" fill="#fff" stroke="#9ee14a" stroke-width="2.3" stroke-linejoin="miter"/><polygon points="309.25,348.34 317.31,343.45 317.31,353.23" fill="#fff" stroke="#9ee14a" stroke-width="2.3" stroke-linejoin="miter"/><polygon points="518.90,358.40 526.96,353.51 526.96,363.29" fill="#fff" stroke="#9ee14a" stroke-width="2.3" stroke-linejoin="miter"/>
<path d="M108.99,296.35 L125.77,304.23 L146.73,318.32 L314.45,332.24 L524.10,351.53" fill="none" stroke="#1d8a24" stroke-width="2.5" stroke-linejoin="round" stroke-linecap="round" stroke-linecap="butt"/>
<polygon points="108.99,291.55 113.79,296.35 108.99,301.15 104.19,296.35" fill="#fff" stroke="#1d8a24" stroke-width="2.3" stroke-linejoin="miter"/><polygon points="125.77,299.43 130.56,304.23 125.77,309.03 120.97,304.23" fill="#fff" stroke="#1d8a24" stroke-width="2.3" stroke-linejoin="miter"/><polygon points="146.73,313.52 151.53,318.32 146.73,323.12 141.93,318.32" fill="#fff" stroke="#1d8a24" stroke-width="2.3" stroke-linejoin="miter"/><polygon points="314.45,327.44 319.25,332.24 314.45,337.04 309.65,332.24" fill="#fff" stroke="#1d8a24" stroke-width="2.3" stroke-linejoin="miter"/><polygon points="524.10,346.73 528.90,351.53 524.10,356.33 519.30,351.53" fill="#fff" stroke="#1d8a24" stroke-width="2.3" stroke-linejoin="miter"/>
<path d="M108.99,292.83 L146.73,300.21 L314.45,319.66 L524.10,336.94" fill="none" stroke="#a8781e" stroke-width="2.4" stroke-linejoin="round" stroke-linecap="round" stroke-linecap="butt"/>
<rect x="105.39" y="289.23" width="7.20" height="7.20" fill="#fff" stroke="#a8781e" stroke-width="2.3"/><rect x="143.13" y="296.61" width="7.20" height="7.20" fill="#fff" stroke="#a8781e" stroke-width="2.3"/><rect x="310.85" y="316.06" width="7.20" height="7.20" fill="#fff" stroke="#a8781e" stroke-width="2.3"/><rect x="520.50" y="333.34" width="7.20" height="7.20" fill="#fff" stroke="#a8781e" stroke-width="2.3"/>
<path d="M125.77,268.85 L146.73,292.33 L314.45,316.98 L524.10,334.42" fill="none" stroke="#2436f5" stroke-width="2.4" stroke-linejoin="round" stroke-linecap="round" stroke-linecap="butt"/>
<polygon points="125.77,264.25 130.14,267.43 128.47,272.57 123.06,272.57 121.39,267.43" fill="#fff" stroke="#2436f5" stroke-width="2.3" stroke-linejoin="miter"/><polygon points="146.73,287.73 151.10,290.91 149.43,296.05 144.03,296.05 142.36,290.91" fill="#fff" stroke="#2436f5" stroke-width="2.3" stroke-linejoin="miter"/><polygon points="314.45,312.38 318.82,315.56 317.15,320.70 311.75,320.70 310.08,315.56" fill="#fff" stroke="#2436f5" stroke-width="2.3" stroke-linejoin="miter"/><polygon points="524.10,329.82 528.47,333.00 526.80,338.14 521.40,338.14 519.73,333.00" fill="#fff" stroke="#2436f5" stroke-width="2.3" stroke-linejoin="miter"/>
<path d="M146.73,308.93 L524.10,327.71" fill="none" stroke="#e46cf2" stroke-width="2.3" stroke-linejoin="round" stroke-linecap="round" stroke-linecap="butt"/>
<circle cx="146.73" cy="308.93" r="3.90" fill="#fff" stroke="#e46cf2" stroke-width="2.3"/><circle cx="524.10" cy="327.71" r="3.90" fill="#fff" stroke="#e46cf2" stroke-width="2.3"/>
<path d="M146.73,248.05 L188.66,253.59 L272.52,262.81 L356.38,270.36 L440.24,274.05 L524.10,276.40" fill="none" stroke="#3d7ecf" stroke-width="2.3" stroke-linejoin="round" stroke-linecap="round" stroke-linecap="butt"/>
<circle cx="146.73" cy="248.05" r="3.90" fill="#fff" stroke="#3d7ecf" stroke-width="2.3"/><circle cx="188.66" cy="253.59" r="3.90" fill="#fff" stroke="#3d7ecf" stroke-width="2.3"/><circle cx="272.52" cy="262.81" r="3.90" fill="#fff" stroke="#3d7ecf" stroke-width="2.3"/><circle cx="356.38" cy="270.36" r="3.90" fill="#fff" stroke="#3d7ecf" stroke-width="2.3"/><circle cx="440.24" cy="274.05" r="3.90" fill="#fff" stroke="#3d7ecf" stroke-width="2.3"/><circle cx="524.10" cy="276.40" r="3.90" fill="#fff" stroke="#3d7ecf" stroke-width="2.3"/>
<line x1="594.50" y1="238.90" x2="624.30" y2="238.90" stroke="#3d7ecf" stroke-width="2.5"/>
<circle cx="609.50" cy="238.90" r="3.59" fill="#fff" stroke="#3d7ecf" stroke-width="2.6"/>
<text x="627.60" y="243.41" font-size="12.7" text-anchor="start" font-weight="normal" fill="#262626" stroke="#262626" stroke-width="0.3">IWQ-LTO</text>
<line x1="594.50" y1="258.90" x2="624.30" y2="258.90" stroke="#e46cf2" stroke-width="2.5"/>
<circle cx="609.50" cy="258.90" r="3.59" fill="#fff" stroke="#e46cf2" stroke-width="2.6"/>
<text x="627.60" y="263.41" font-size="12.7" text-anchor="start" font-weight="normal" fill="#262626" stroke="#262626" stroke-width="0.3">LTO/carbon nanotube</text>
<line x1="594.50" y1="278.60" x2="624.30" y2="278.60" stroke="#2436f5" stroke-width="2.5"/>
<polygon points="609.50,274.37 613.52,277.29 611.99,282.02 607.01,282.02 605.48,277.29" fill="#fff" stroke="#2436f5" stroke-width="2.6" stroke-linejoin="miter"/>
<text x="627.60" y="283.11" font-size="12.7" text-anchor="start" font-weight="normal" fill="#262626" stroke="#262626" stroke-width="0.3">LTO/graphene</text>
<line x1="594.50" y1="298.70" x2="624.30" y2="298.70" stroke="#a8781e" stroke-width="2.5"/>
<rect x="606.19" y="295.39" width="6.62" height="6.62" fill="#fff" stroke="#a8781e" stroke-width="2.6"/>
<text x="627.60" y="303.21" font-size="12.7" text-anchor="start" font-weight="normal" fill="#262626" stroke="#262626" stroke-width="0.3">Nanosized LTO/carbon</text>
<line x1="594.50" y1="318.60" x2="624.30" y2="318.60" stroke="#1d8a24" stroke-width="2.5"/>
<polygon points="609.50,314.18 613.92,318.60 609.50,323.02 605.08,318.60" fill="#fff" stroke="#1d8a24" stroke-width="2.6" stroke-linejoin="miter"/>
<text x="627.60" y="323.11" font-size="12.7" text-anchor="start" font-weight="normal" fill="#262626" stroke="#262626" stroke-width="0.3">W-Br-codoped LTO</text>
<line x1="594.50" y1="338.60" x2="624.30" y2="338.60" stroke="#9ee14a" stroke-width="2.5"/>
<polygon points="604.72,338.60 612.13,334.10 612.13,343.10" fill="#fff" stroke="#9ee14a" stroke-width="2.6" stroke-linejoin="miter"/>
<text x="627.60" y="343.11" font-size="12.7" text-anchor="start" font-weight="normal" fill="#262626" stroke="#262626" stroke-width="0.3">LTO/TiO<tspan font-size="8.5" dy="3">2</tspan><tspan dy="-3">/carbon</tspan></text>
<line x1="594.50" y1="361.40" x2="624.30" y2="361.40" stroke="#ff7d12" stroke-width="2.5"/>
<polygon points="614.28,361.40 606.87,356.90 606.87,365.90" fill="#fff" stroke="#ff7d12" stroke-width="2.6" stroke-linejoin="miter"/>
<text x="627.60" y="365.91" font-size="12.7" text-anchor="start" font-weight="normal" fill="#262626" stroke="#262626" stroke-width="0.3">LTO/N-doped carbon</text>
<line x1="594.50" y1="381.50" x2="624.30" y2="381.50" stroke="#fa4848" stroke-width="2.5"/>
<polygon points="609.50,386.28 614.00,378.87 605.00,378.87" fill="#fff" stroke="#fa4848" stroke-width="2.6" stroke-linejoin="miter"/>
<text x="627.60" y="386.01" font-size="12.7" text-anchor="start" font-weight="normal" fill="#262626" stroke="#262626" stroke-width="0.3">LTO/carbon nanocomposite</text>
<line x1="594.50" y1="400.90" x2="624.30" y2="400.90" stroke="#8a1c1c" stroke-width="2.5"/>
<polygon points="609.50,396.12 614.00,403.53 605.00,403.53" fill="#fff" stroke="#8a1c1c" stroke-width="2.6" stroke-linejoin="miter"/>
<text x="627.60" y="405.41" font-size="12.7" text-anchor="start" font-weight="normal" fill="#262626" stroke="#262626" stroke-width="0.3">LTO hollow spheres</text>
</svg>
<svg id="wm" width="831" height="664" viewBox="0 0 831 664"><g transform="translate(656.3 637.8) scale(1.32 1)"><text x="0" y="0" text-anchor="middle" font-family="Liberation Sans, sans-serif" font-size="12.2" font-weight="normal" fill="#000" stroke="#000" stroke-width="0.15">y</text></g><g transform="translate(664.0 637.8) scale(1.32 1)"><text x="0" y="0" text-anchor="middle" font-family="Liberation Sans, sans-serif" font-size="12.2" font-weight="normal" fill="#000" stroke="#000" stroke-width="0.15">b</text></g><g transform="translate(673.2 637.8) scale(1.32 1)"><text x="0" y="0" text-anchor="middle" font-family="Liberation Sans, sans-serif" font-size="12.2" font-weight="normal" fill="#000" stroke="#000" stroke-width="0.15">x</text></g><g transform="translate(682.3 637.8) scale(1.32 1)"><text x="0" y="0" text-anchor="middle" font-family="Liberation Sans, sans-serif" font-size="12.2" font-weight="normal" fill="#000" stroke="#000" stroke-width="0.15">8</text></g><g transform="translate(693.4 637.8) scale(1.32 1)"><text x="0" y="0" text-anchor="middle" font-family="Liberation Sans, sans-serif" font-size="14" font-weight="bold" fill="#000" stroke="#000" stroke-width="0.15">.</text></g><g transform="translate(701.3 637.8) scale(1.32 1)"><text x="0" y="0" text-anchor="middle" font-family="Liberation Sans, sans-serif" font-size="12.2" font-weight="normal" fill="#000" stroke="#000" stroke-width="0.15">c</text></g><g transform="translate(710.7 637.8) scale(1.32 1)"><text x="0" y="0" text-anchor="middle" font-family="Liberation Sans, sans-serif" font-size="12.2" font-weight="normal" fill="#000" stroke="#000" stroke-width="0.15">n</text></g></svg>
</body></html>
